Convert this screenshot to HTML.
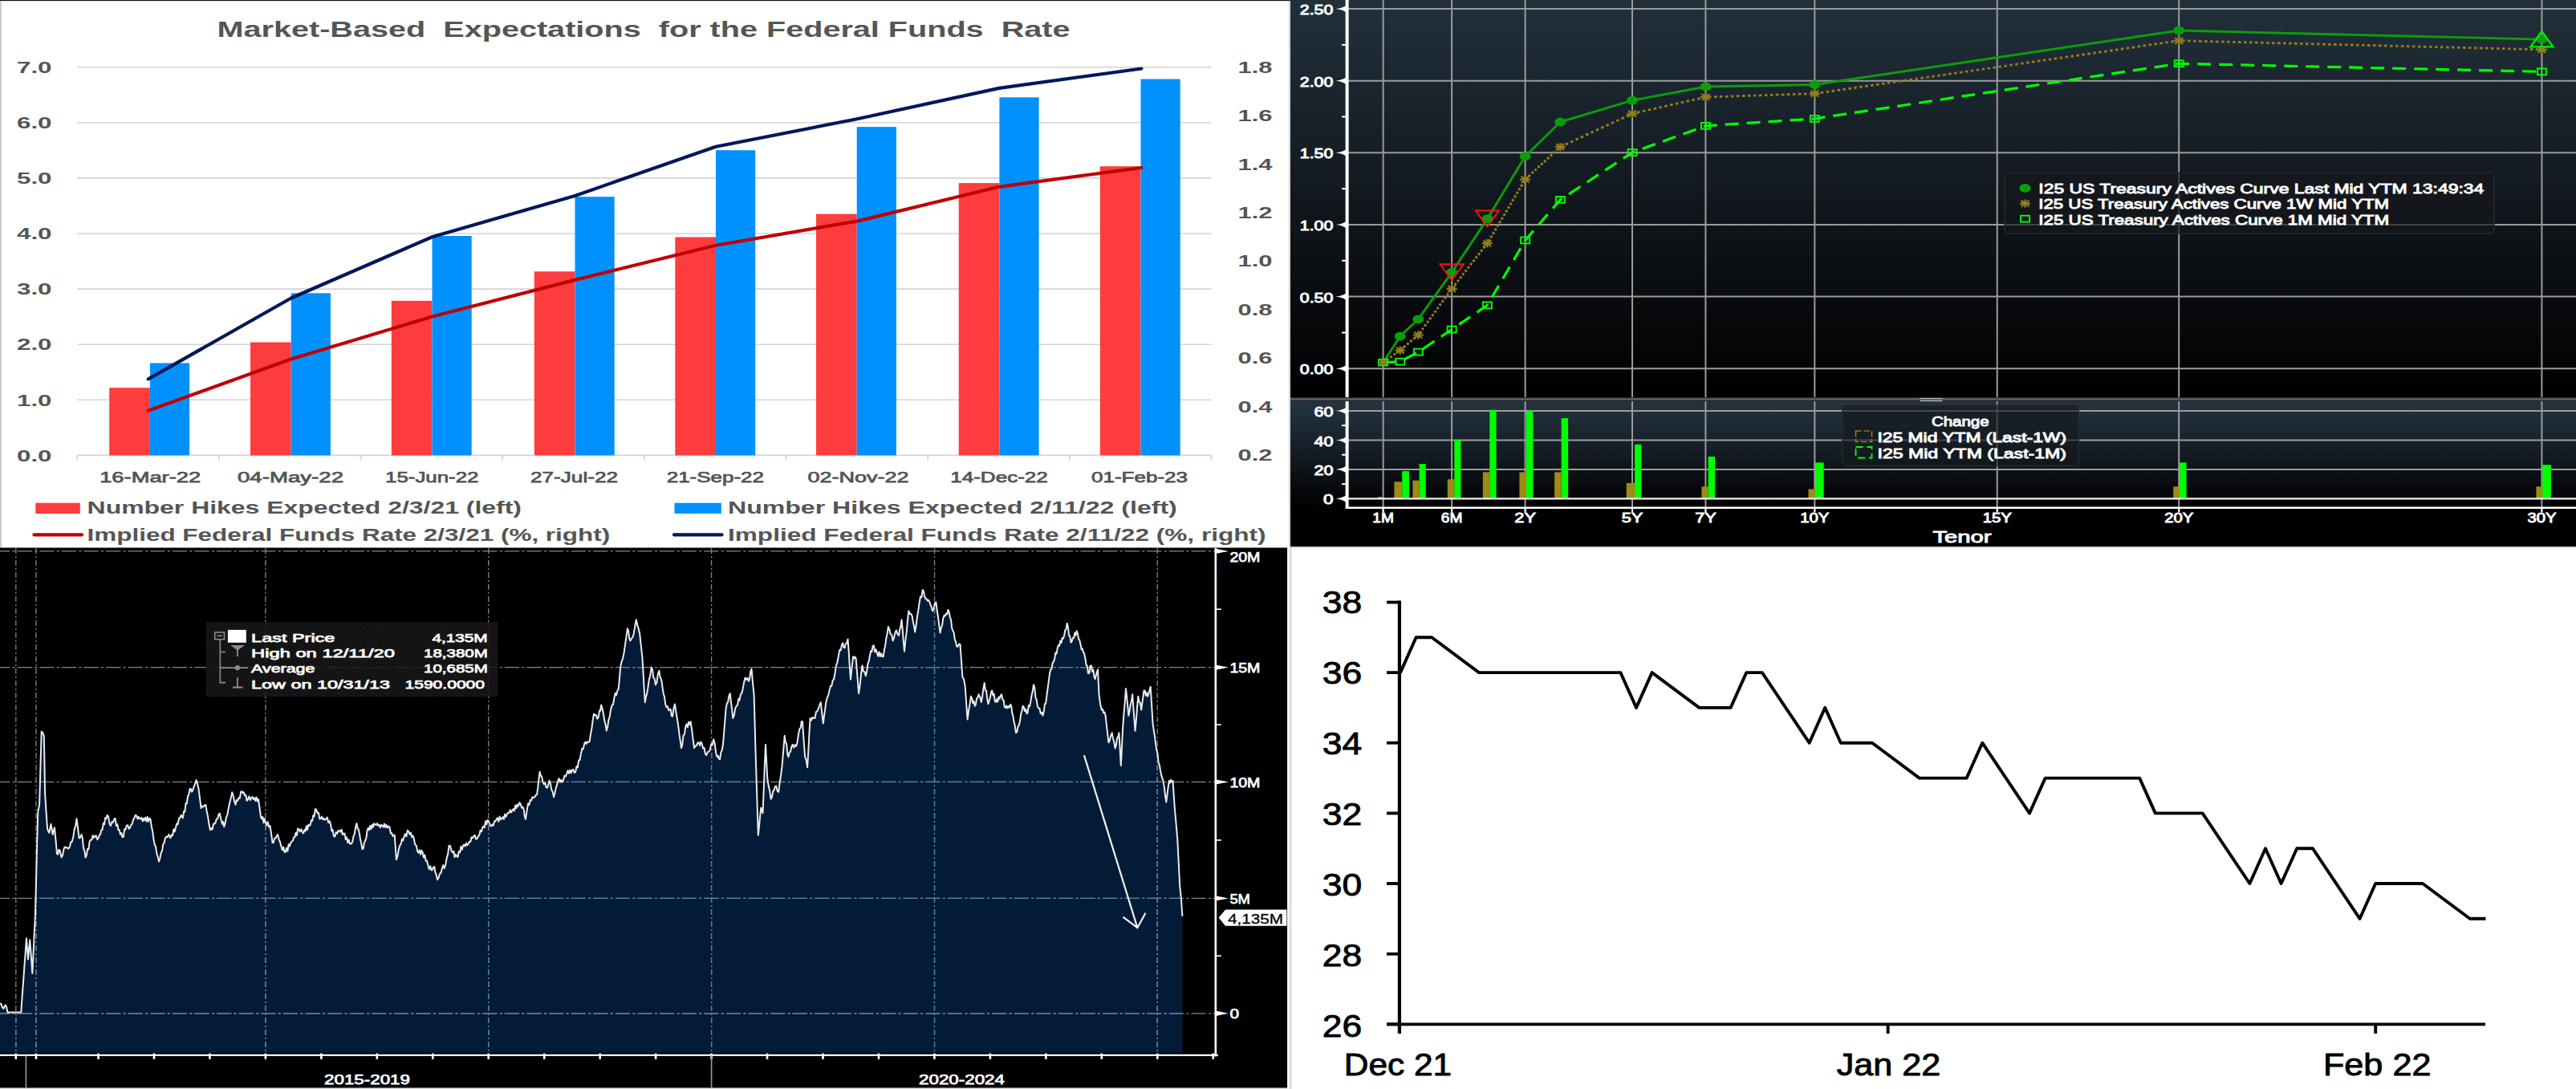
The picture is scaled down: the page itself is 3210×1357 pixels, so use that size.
<!DOCTYPE html>
<html><head><meta charset="utf-8"><title>Charts</title>
<style>
html,body{margin:0;padding:0;background:#fff;}
body{width:3210px;height:1357px;overflow:hidden;font-family:"Liberation Sans", sans-serif;}
svg{display:block;font-family:"Liberation Sans", sans-serif;}
</style></head><body>
<svg width="3210" height="1357" viewBox="0 0 3210 1357">
<defs>
<linearGradient id="g2a" x1="0" y1="0" x2="0" y2="1"><stop offset="0" stop-color="#22303b"/><stop offset="0.55" stop-color="#10151b"/><stop offset="1" stop-color="#000"/></linearGradient>
<linearGradient id="g2b" x1="0" y1="0" x2="0" y2="1"><stop offset="0" stop-color="#243441"/><stop offset="0.5" stop-color="#141b23"/><stop offset="1" stop-color="#000"/></linearGradient>
<pattern id="hatch" width="4" height="4" patternUnits="userSpaceOnUse"><rect width="4" height="4" fill="#131313"/><path d="M0 4L4 0" stroke="#262626" stroke-width="1"/></pattern>
</defs>
<g id="p1">
<rect x="0.0" y="0.0" width="1608.0" height="682.0" fill="#ffffff"/>
<rect x="0.0" y="0.0" width="1608.0" height="1.2" fill="#111"/>
<rect x="0.0" y="1.2" width="1608.0" height="1.4" fill="#e6e6e6"/>
<rect x="0.0" y="1.2" width="2.0" height="680.8" fill="#cbcbcb"/>
<rect x="1605.8" y="1.5" width="2.4" height="680.5" fill="#dadada"/>
<text x="270.5" y="46.4" font-size="28" font-weight="bold" fill="#555555" textLength="1063.0" lengthAdjust="spacingAndGlyphs">Market-Based  Expectations  for the Federal Funds  Rate</text>
<line x1="96.0" y1="567.4" x2="1509.5" y2="567.4" stroke="#d4d4d4" stroke-width="1.6"/>
<text x="21.0" y="574.6" font-size="21" font-weight="bold" fill="#555555" textLength="43.5" lengthAdjust="spacingAndGlyphs">0.0</text>
<line x1="96.0" y1="498.3" x2="1509.5" y2="498.3" stroke="#d4d4d4" stroke-width="1.6"/>
<text x="21.0" y="505.5" font-size="21" font-weight="bold" fill="#555555" textLength="43.5" lengthAdjust="spacingAndGlyphs">1.0</text>
<line x1="96.0" y1="429.2" x2="1509.5" y2="429.2" stroke="#d4d4d4" stroke-width="1.6"/>
<text x="21.0" y="436.4" font-size="21" font-weight="bold" fill="#555555" textLength="43.5" lengthAdjust="spacingAndGlyphs">2.0</text>
<line x1="96.0" y1="360.1" x2="1509.5" y2="360.1" stroke="#d4d4d4" stroke-width="1.6"/>
<text x="21.0" y="367.3" font-size="21" font-weight="bold" fill="#555555" textLength="43.5" lengthAdjust="spacingAndGlyphs">3.0</text>
<line x1="96.0" y1="291.0" x2="1509.5" y2="291.0" stroke="#d4d4d4" stroke-width="1.6"/>
<text x="21.0" y="298.2" font-size="21" font-weight="bold" fill="#555555" textLength="43.5" lengthAdjust="spacingAndGlyphs">4.0</text>
<line x1="96.0" y1="221.9" x2="1509.5" y2="221.9" stroke="#d4d4d4" stroke-width="1.6"/>
<text x="21.0" y="229.1" font-size="21" font-weight="bold" fill="#555555" textLength="43.5" lengthAdjust="spacingAndGlyphs">5.0</text>
<line x1="96.0" y1="152.8" x2="1509.5" y2="152.8" stroke="#d4d4d4" stroke-width="1.6"/>
<text x="21.0" y="160.0" font-size="21" font-weight="bold" fill="#555555" textLength="43.5" lengthAdjust="spacingAndGlyphs">6.0</text>
<line x1="96.0" y1="83.7" x2="1509.5" y2="83.7" stroke="#d4d4d4" stroke-width="1.6"/>
<text x="21.0" y="90.9" font-size="21" font-weight="bold" fill="#555555" textLength="43.5" lengthAdjust="spacingAndGlyphs">7.0</text>
<text x="1542.5" y="574.1" font-size="21" font-weight="bold" fill="#555555" textLength="43.0" lengthAdjust="spacingAndGlyphs">0.2</text>
<text x="1542.5" y="513.7" font-size="21" font-weight="bold" fill="#555555" textLength="43.0" lengthAdjust="spacingAndGlyphs">0.4</text>
<text x="1542.5" y="453.2" font-size="21" font-weight="bold" fill="#555555" textLength="43.0" lengthAdjust="spacingAndGlyphs">0.6</text>
<text x="1542.5" y="392.8" font-size="21" font-weight="bold" fill="#555555" textLength="43.0" lengthAdjust="spacingAndGlyphs">0.8</text>
<text x="1542.5" y="332.4" font-size="21" font-weight="bold" fill="#555555" textLength="43.0" lengthAdjust="spacingAndGlyphs">1.0</text>
<text x="1542.5" y="271.9" font-size="21" font-weight="bold" fill="#555555" textLength="43.0" lengthAdjust="spacingAndGlyphs">1.2</text>
<text x="1542.5" y="211.5" font-size="21" font-weight="bold" fill="#555555" textLength="43.0" lengthAdjust="spacingAndGlyphs">1.4</text>
<text x="1542.5" y="151.1" font-size="21" font-weight="bold" fill="#555555" textLength="43.0" lengthAdjust="spacingAndGlyphs">1.6</text>
<text x="1542.5" y="90.7" font-size="21" font-weight="bold" fill="#555555" textLength="43.0" lengthAdjust="spacingAndGlyphs">1.8</text>
<line x1="96.3" y1="567.4" x2="96.3" y2="574.0" stroke="#d4d4d4" stroke-width="1.6"/>
<line x1="272.9" y1="567.4" x2="272.9" y2="574.0" stroke="#d4d4d4" stroke-width="1.6"/>
<line x1="449.6" y1="567.4" x2="449.6" y2="574.0" stroke="#d4d4d4" stroke-width="1.6"/>
<line x1="626.2" y1="567.4" x2="626.2" y2="574.0" stroke="#d4d4d4" stroke-width="1.6"/>
<line x1="802.9" y1="567.4" x2="802.9" y2="574.0" stroke="#d4d4d4" stroke-width="1.6"/>
<line x1="979.5" y1="567.4" x2="979.5" y2="574.0" stroke="#d4d4d4" stroke-width="1.6"/>
<line x1="1156.2" y1="567.4" x2="1156.2" y2="574.0" stroke="#d4d4d4" stroke-width="1.6"/>
<line x1="1332.8" y1="567.4" x2="1332.8" y2="574.0" stroke="#d4d4d4" stroke-width="1.6"/>
<line x1="1509.5" y1="567.4" x2="1509.5" y2="574.0" stroke="#d4d4d4" stroke-width="1.6"/>
<rect x="136.2" y="483.2" width="50.7" height="84.2" fill="#fd3c3e"/>
<rect x="186.9" y="452.4" width="49.2" height="115.0" fill="#0091ff"/>
<rect x="312.0" y="426.5" width="50.7" height="140.9" fill="#fd3c3e"/>
<rect x="362.7" y="365.3" width="49.2" height="202.1" fill="#0091ff"/>
<rect x="487.8" y="374.8" width="50.7" height="192.6" fill="#fd3c3e"/>
<rect x="538.5" y="294.0" width="49.2" height="273.4" fill="#0091ff"/>
<rect x="665.8" y="338.3" width="50.7" height="229.1" fill="#fd3c3e"/>
<rect x="716.5" y="245.2" width="49.2" height="322.2" fill="#0091ff"/>
<rect x="841.3" y="295.5" width="50.7" height="271.9" fill="#fd3c3e"/>
<rect x="892.0" y="187.2" width="49.2" height="380.2" fill="#0091ff"/>
<rect x="1017.0" y="266.7" width="50.7" height="300.7" fill="#fd3c3e"/>
<rect x="1067.7" y="158.1" width="49.2" height="409.3" fill="#0091ff"/>
<rect x="1194.7" y="228.1" width="50.7" height="339.3" fill="#fd3c3e"/>
<rect x="1245.4" y="121.3" width="49.2" height="446.1" fill="#0091ff"/>
<rect x="1370.8" y="207.2" width="50.7" height="360.2" fill="#fd3c3e"/>
<rect x="1421.5" y="98.5" width="49.2" height="468.9" fill="#0091ff"/>
<polyline points="184.7,511.7 362.7,447.5 538.5,394.5 716.5,348.9 892.0,305.7 1068.0,275.6 1245.0,232.8 1422.4,209.0" fill="none" stroke="#c00000" stroke-width="4.2" stroke-linecap="round" stroke-linejoin="round"/>
<polyline points="184.7,472.4 362.7,371.5 538.5,295.3 716.5,243.9 892.0,182.8 1068.0,148.2 1245.0,109.9 1422.4,85.5" fill="none" stroke="#00175a" stroke-width="4.2" stroke-linecap="round" stroke-linejoin="round"/>
<text x="124.2" y="601.3" font-size="18.5" fill="#555555" textLength="126.0" lengthAdjust="spacingAndGlyphs" stroke="#555" stroke-width="0.75">16-Mar-22</text>
<text x="296.0" y="601.3" font-size="18.5" fill="#555555" textLength="132.0" lengthAdjust="spacingAndGlyphs" stroke="#555" stroke-width="0.75">04-May-22</text>
<text x="480.0" y="601.3" font-size="18.5" fill="#555555" textLength="116.5" lengthAdjust="spacingAndGlyphs" stroke="#555" stroke-width="0.75">15-Jun-22</text>
<text x="661.0" y="601.3" font-size="18.5" fill="#555555" textLength="109.0" lengthAdjust="spacingAndGlyphs" stroke="#555" stroke-width="0.75">27-Jul-22</text>
<text x="830.7" y="601.3" font-size="18.5" fill="#555555" textLength="121.3" lengthAdjust="spacingAndGlyphs" stroke="#555" stroke-width="0.75">21-Sep-22</text>
<text x="1006.5" y="601.3" font-size="18.5" fill="#555555" textLength="126.1" lengthAdjust="spacingAndGlyphs" stroke="#555" stroke-width="0.75">02-Nov-22</text>
<text x="1184.2" y="601.3" font-size="18.5" fill="#555555" textLength="121.7" lengthAdjust="spacingAndGlyphs" stroke="#555" stroke-width="0.75">14-Dec-22</text>
<text x="1360.0" y="601.3" font-size="18.5" fill="#555555" textLength="120.0" lengthAdjust="spacingAndGlyphs" stroke="#555" stroke-width="0.75">01-Feb-23</text>
<rect x="44.3" y="626.7" width="55.5" height="13.3" fill="#fd3c3e"/>
<text x="108.6" y="640.0" font-size="22.5" font-weight="bold" fill="#555555" textLength="541.4" lengthAdjust="spacingAndGlyphs">Number Hikes Expected 2/3/21 (left)</text>
<rect x="840.5" y="626.7" width="58.3" height="13.3" fill="#0091ff"/>
<text x="907.0" y="640.0" font-size="22.5" font-weight="bold" fill="#555555" textLength="559.8" lengthAdjust="spacingAndGlyphs">Number Hikes Expected 2/11/22 (left)</text>
<line x1="42.5" y1="666.3" x2="102.0" y2="666.3" stroke="#c00000" stroke-width="4.2" stroke-linecap="round"/>
<text x="108.6" y="673.5" font-size="22.5" font-weight="bold" fill="#555555" textLength="651.6" lengthAdjust="spacingAndGlyphs">Implied Federal Funds Rate 2/3/21 (%, right)</text>
<line x1="840.0" y1="666.3" x2="899.5" y2="666.3" stroke="#00175a" stroke-width="4.2" stroke-linecap="round"/>
<text x="907.0" y="673.5" font-size="22.5" font-weight="bold" fill="#555555" textLength="670.6" lengthAdjust="spacingAndGlyphs">Implied Federal Funds Rate 2/11/22 (%, right)</text>
</g>
<g id="p2">
<rect x="1608.0" y="0.0" width="1602.0" height="681.5" fill="#000"/>
<rect x="1608.0" y="0.0" width="1602.0" height="496.0" fill="url(#g2a)"/>
<rect x="1608.0" y="499.5" width="1602.0" height="133.0" fill="url(#g2b)"/>
<line x1="1723.6" y1="0.0" x2="1723.6" y2="495.0" stroke="#9b9b9b" stroke-width="2.0"/>
<line x1="1809.1" y1="0.0" x2="1809.1" y2="495.0" stroke="#9b9b9b" stroke-width="2.0"/>
<line x1="1900.6" y1="0.0" x2="1900.6" y2="495.0" stroke="#9b9b9b" stroke-width="2.0"/>
<line x1="2034.0" y1="0.0" x2="2034.0" y2="495.0" stroke="#9b9b9b" stroke-width="2.0"/>
<line x1="2125.4" y1="0.0" x2="2125.4" y2="495.0" stroke="#9b9b9b" stroke-width="2.0"/>
<line x1="2261.3" y1="0.0" x2="2261.3" y2="495.0" stroke="#9b9b9b" stroke-width="2.0"/>
<line x1="2488.7" y1="0.0" x2="2488.7" y2="495.0" stroke="#9b9b9b" stroke-width="2.0"/>
<line x1="2715.2" y1="0.0" x2="2715.2" y2="495.0" stroke="#9b9b9b" stroke-width="2.0"/>
<line x1="3167.4" y1="0.0" x2="3167.4" y2="495.0" stroke="#9b9b9b" stroke-width="2.0"/>
<line x1="1678.0" y1="459.3" x2="3210.0" y2="459.3" stroke="#9b9b9b" stroke-width="2.0"/>
<line x1="1678.0" y1="369.6" x2="3210.0" y2="369.6" stroke="#9b9b9b" stroke-width="2.0"/>
<line x1="1678.0" y1="280.0" x2="3210.0" y2="280.0" stroke="#9b9b9b" stroke-width="2.0"/>
<line x1="1678.0" y1="190.3" x2="3210.0" y2="190.3" stroke="#9b9b9b" stroke-width="2.0"/>
<line x1="1678.0" y1="100.7" x2="3210.0" y2="100.7" stroke="#9b9b9b" stroke-width="2.0"/>
<line x1="1678.0" y1="11.1" x2="3210.0" y2="11.1" stroke="#9b9b9b" stroke-width="2.0"/>
<rect x="1608.0" y="495.6" width="1602.0" height="3.4" fill="#5a5a5a"/>
<rect x="2392.5" y="495.9" width="28.0" height="1.2" fill="#b4b4b4"/>
<rect x="2392.5" y="498.9" width="28.0" height="1.2" fill="#b4b4b4"/>
<line x1="1723.6" y1="500.0" x2="1723.6" y2="638.0" stroke="#9b9b9b" stroke-width="2.0"/>
<line x1="1809.1" y1="500.0" x2="1809.1" y2="638.0" stroke="#9b9b9b" stroke-width="2.0"/>
<line x1="1900.6" y1="500.0" x2="1900.6" y2="638.0" stroke="#9b9b9b" stroke-width="2.0"/>
<line x1="2034.0" y1="500.0" x2="2034.0" y2="638.0" stroke="#9b9b9b" stroke-width="2.0"/>
<line x1="2125.4" y1="500.0" x2="2125.4" y2="638.0" stroke="#9b9b9b" stroke-width="2.0"/>
<line x1="2261.3" y1="500.0" x2="2261.3" y2="638.0" stroke="#9b9b9b" stroke-width="2.0"/>
<line x1="2488.7" y1="500.0" x2="2488.7" y2="638.0" stroke="#9b9b9b" stroke-width="2.0"/>
<line x1="2715.2" y1="500.0" x2="2715.2" y2="638.0" stroke="#9b9b9b" stroke-width="2.0"/>
<line x1="3167.4" y1="500.0" x2="3167.4" y2="638.0" stroke="#9b9b9b" stroke-width="2.0"/>
<line x1="1678.0" y1="584.9" x2="3210.0" y2="584.9" stroke="#9b9b9b" stroke-width="2.0"/>
<line x1="1678.0" y1="548.5" x2="3210.0" y2="548.5" stroke="#9b9b9b" stroke-width="2.0"/>
<line x1="1678.0" y1="512.0" x2="3210.0" y2="512.0" stroke="#9b9b9b" stroke-width="2.0"/>
<rect x="1717.0" y="619.2" width="7.0" height="2.2" fill="#a08a16"/>
<rect x="1737.4" y="600.3" width="9.8" height="21.1" fill="#a08a16"/>
<rect x="1747.2" y="587.1" width="8.8" height="34.3" fill="#00ff00"/>
<rect x="1760.4" y="598.7" width="8.2" height="22.7" fill="#a08a16"/>
<rect x="1768.6" y="578.0" width="8.1" height="43.4" fill="#00ff00"/>
<rect x="1803.8" y="597.2" width="8.5" height="24.2" fill="#a08a16"/>
<rect x="1812.3" y="548.1" width="8.1" height="73.3" fill="#00ff00"/>
<rect x="1847.8" y="588.4" width="8.5" height="33.0" fill="#a08a16"/>
<rect x="1856.3" y="510.7" width="8.2" height="110.7" fill="#00ff00"/>
<rect x="1893.4" y="588.4" width="8.5" height="33.0" fill="#a08a16"/>
<rect x="1901.9" y="512.0" width="8.5" height="109.4" fill="#00ff00"/>
<rect x="1937.1" y="588.4" width="8.5" height="33.0" fill="#a08a16"/>
<rect x="1945.6" y="521.1" width="8.5" height="100.3" fill="#00ff00"/>
<rect x="2026.7" y="601.9" width="10.4" height="19.5" fill="#a08a16"/>
<rect x="2037.1" y="553.8" width="8.2" height="67.6" fill="#00ff00"/>
<rect x="2120.4" y="606.3" width="8.2" height="15.1" fill="#a08a16"/>
<rect x="2128.6" y="568.9" width="8.5" height="52.5" fill="#00ff00"/>
<rect x="2253.5" y="609.4" width="8.5" height="12.0" fill="#a08a16"/>
<rect x="2262.0" y="576.4" width="10.6" height="45.0" fill="#00ff00"/>
<rect x="2708.2" y="606.3" width="7.8" height="15.1" fill="#a08a16"/>
<rect x="2716.0" y="576.4" width="8.5" height="45.0" fill="#00ff00"/>
<rect x="3160.4" y="606.3" width="7.8" height="15.1" fill="#a08a16"/>
<rect x="3168.2" y="579.2" width="10.7" height="42.2" fill="#00ff00"/>
<line x1="1678.6" y1="0.0" x2="1678.6" y2="495.0" stroke="#fff" stroke-width="4"/>
<line x1="1678.6" y1="500.0" x2="1678.6" y2="633.5" stroke="#fff" stroke-width="4"/>
<line x1="1678.0" y1="621.4" x2="3210.0" y2="621.4" stroke="#f0f0f0" stroke-width="2.2"/>
<line x1="1676.6" y1="632.7" x2="3210.0" y2="632.7" stroke="#fff" stroke-width="2.4"/>
<line x1="1723.6" y1="632.0" x2="1723.6" y2="638.5" stroke="#fff" stroke-width="2"/>
<line x1="1809.1" y1="632.0" x2="1809.1" y2="638.5" stroke="#fff" stroke-width="2"/>
<line x1="1900.6" y1="632.0" x2="1900.6" y2="638.5" stroke="#fff" stroke-width="2"/>
<line x1="2034.0" y1="632.0" x2="2034.0" y2="638.5" stroke="#fff" stroke-width="2"/>
<line x1="2125.4" y1="632.0" x2="2125.4" y2="638.5" stroke="#fff" stroke-width="2"/>
<line x1="2261.3" y1="632.0" x2="2261.3" y2="638.5" stroke="#fff" stroke-width="2"/>
<line x1="2488.7" y1="632.0" x2="2488.7" y2="638.5" stroke="#fff" stroke-width="2"/>
<line x1="2715.2" y1="632.0" x2="2715.2" y2="638.5" stroke="#fff" stroke-width="2"/>
<line x1="3167.4" y1="632.0" x2="3167.4" y2="638.5" stroke="#fff" stroke-width="2"/>
<path d="M1664.5 459.3Q1673.0 458.4 1678.0 454.7V463.9Q1673.0 460.2 1664.5 459.3Z" fill="#fff"/>
<text x="1619.8" y="466.2" font-size="16.5" fill="#fff" textLength="41.5" lengthAdjust="spacingAndGlyphs" stroke="#fff" stroke-width="0.9">0.00</text>
<path d="M1664.5 369.6Q1673.0 368.8 1678.0 365.0V374.2Q1673.0 370.5 1664.5 369.6Z" fill="#fff"/>
<text x="1619.8" y="376.5" font-size="16.5" fill="#fff" textLength="41.5" lengthAdjust="spacingAndGlyphs" stroke="#fff" stroke-width="0.9">0.50</text>
<path d="M1664.5 280.0Q1673.0 279.1 1678.0 275.4V284.6Q1673.0 280.9 1664.5 280.0Z" fill="#fff"/>
<text x="1619.8" y="286.9" font-size="16.5" fill="#fff" textLength="41.5" lengthAdjust="spacingAndGlyphs" stroke="#fff" stroke-width="0.9">1.00</text>
<path d="M1664.5 190.3Q1673.0 189.4 1678.0 185.7V194.9Q1673.0 191.2 1664.5 190.3Z" fill="#fff"/>
<text x="1619.8" y="197.2" font-size="16.5" fill="#fff" textLength="41.5" lengthAdjust="spacingAndGlyphs" stroke="#fff" stroke-width="0.9">1.50</text>
<path d="M1664.5 100.7Q1673.0 99.8 1678.0 96.1V105.3Q1673.0 101.6 1664.5 100.7Z" fill="#fff"/>
<text x="1619.8" y="107.6" font-size="16.5" fill="#fff" textLength="41.5" lengthAdjust="spacingAndGlyphs" stroke="#fff" stroke-width="0.9">2.00</text>
<path d="M1664.5 11.1Q1673.0 10.2 1678.0 6.5V15.7Q1673.0 12.0 1664.5 11.1Z" fill="#fff"/>
<text x="1619.8" y="18.0" font-size="16.5" fill="#fff" textLength="41.5" lengthAdjust="spacingAndGlyphs" stroke="#fff" stroke-width="0.9">2.50</text>
<line x1="1672.0" y1="414.5" x2="1678.0" y2="414.5" stroke="#fff" stroke-width="2"/>
<line x1="1672.0" y1="324.8" x2="1678.0" y2="324.8" stroke="#fff" stroke-width="2"/>
<line x1="1672.0" y1="235.2" x2="1678.0" y2="235.2" stroke="#fff" stroke-width="2"/>
<line x1="1672.0" y1="145.5" x2="1678.0" y2="145.5" stroke="#fff" stroke-width="2"/>
<line x1="1672.0" y1="55.9" x2="1678.0" y2="55.9" stroke="#fff" stroke-width="2"/>
<path d="M1664.5 621.4Q1673.0 620.5 1678.0 616.8V626.0Q1673.0 622.3 1664.5 621.4Z" fill="#fff"/>
<text x="1661.5" y="628.4" font-size="16.5" fill="#fff" text-anchor="end" textLength="12.5" lengthAdjust="spacingAndGlyphs" stroke="#fff" stroke-width="0.9">0</text>
<path d="M1664.5 584.9Q1673.0 584.0 1678.0 580.3V589.5Q1673.0 585.8 1664.5 584.9Z" fill="#fff"/>
<text x="1661.5" y="591.9" font-size="16.5" fill="#fff" text-anchor="end" textLength="24.0" lengthAdjust="spacingAndGlyphs" stroke="#fff" stroke-width="0.9">20</text>
<path d="M1664.5 548.5Q1673.0 547.6 1678.0 543.9V553.1Q1673.0 549.4 1664.5 548.5Z" fill="#fff"/>
<text x="1661.5" y="555.5" font-size="16.5" fill="#fff" text-anchor="end" textLength="24.0" lengthAdjust="spacingAndGlyphs" stroke="#fff" stroke-width="0.9">40</text>
<path d="M1664.5 512.0Q1673.0 511.1 1678.0 507.4V516.6Q1673.0 512.9 1664.5 512.0Z" fill="#fff"/>
<text x="1661.5" y="519.0" font-size="16.5" fill="#fff" text-anchor="end" textLength="24.0" lengthAdjust="spacingAndGlyphs" stroke="#fff" stroke-width="0.9">60</text>
<line x1="1672.0" y1="603.2" x2="1678.0" y2="603.2" stroke="#fff" stroke-width="2"/>
<line x1="1672.0" y1="566.7" x2="1678.0" y2="566.7" stroke="#fff" stroke-width="2"/>
<line x1="1672.0" y1="530.2" x2="1678.0" y2="530.2" stroke="#fff" stroke-width="2"/>
<text x="1723.6" y="651.3" font-size="16.5" fill="#fff" text-anchor="middle" textLength="26.5" lengthAdjust="spacingAndGlyphs" stroke="#fff" stroke-width="0.9">1M</text>
<text x="1809.1" y="651.3" font-size="16.5" fill="#fff" text-anchor="middle" textLength="26.5" lengthAdjust="spacingAndGlyphs" stroke="#fff" stroke-width="0.9">6M</text>
<text x="1900.6" y="651.3" font-size="16.5" fill="#fff" text-anchor="middle" textLength="26.5" lengthAdjust="spacingAndGlyphs" stroke="#fff" stroke-width="0.9">2Y</text>
<text x="2034.0" y="651.3" font-size="16.5" fill="#fff" text-anchor="middle" textLength="26.5" lengthAdjust="spacingAndGlyphs" stroke="#fff" stroke-width="0.9">5Y</text>
<text x="2125.4" y="651.3" font-size="16.5" fill="#fff" text-anchor="middle" textLength="26.5" lengthAdjust="spacingAndGlyphs" stroke="#fff" stroke-width="0.9">7Y</text>
<text x="2261.3" y="651.3" font-size="16.5" fill="#fff" text-anchor="middle" textLength="36.0" lengthAdjust="spacingAndGlyphs" stroke="#fff" stroke-width="0.9">10Y</text>
<text x="2488.7" y="651.3" font-size="16.5" fill="#fff" text-anchor="middle" textLength="36.0" lengthAdjust="spacingAndGlyphs" stroke="#fff" stroke-width="0.9">15Y</text>
<text x="2715.2" y="651.3" font-size="16.5" fill="#fff" text-anchor="middle" textLength="36.0" lengthAdjust="spacingAndGlyphs" stroke="#fff" stroke-width="0.9">20Y</text>
<text x="3167.4" y="651.3" font-size="16.5" fill="#fff" text-anchor="middle" textLength="36.0" lengthAdjust="spacingAndGlyphs" stroke="#fff" stroke-width="0.9">30Y</text>
<text x="2445.0" y="675.5" font-size="20" fill="#fff" text-anchor="middle" textLength="73.0" lengthAdjust="spacingAndGlyphs" stroke="#fff" stroke-width="0.9">Tenor</text>
<polyline points="1723.6,451.7 1744.7,450.6 1767.3,438.6 1809.1,410.5 1853.4,380.3 1900.6,299.5 1944.3,248.9 2034.0,190.0 2125.4,156.8 2261.3,147.9 2715.2,79.2 3167.4,89.3" fill="none" stroke="#00ff00" stroke-width="3.2" stroke-dasharray="17 10" stroke-linejoin="round"/>
<polyline points="1723.6,451.7 1744.7,436.5 1767.3,417.5 1809.1,359.8 1853.4,303.2 1900.6,223.6 1944.3,183.1" fill="none" stroke="#937e1c" stroke-width="3.0" stroke-dasharray="3 2.3"/>
<polyline points="1944.3,183.1 2034.0,141.6 2125.4,121.0 2261.3,116.6 2715.2,50.7 3167.4,61.8" fill="none" stroke="#937e1c" stroke-width="2.9" stroke-dasharray="3.6 3.4"/>
<polyline points="1723.6,451.7 1744.7,419.0 1767.3,397.8 1809.1,339.3 1853.4,272.6 1900.6,194.8 1944.3,152.0 2034.0,125.1 2125.4,108.0 2261.3,105.5 2715.2,38.0 3167.4,49.1" fill="none" stroke="#0a9e0a" stroke-width="2.9" stroke-linejoin="round"/>
<rect x="1718.1" y="447.8" width="11" height="7.8" fill="none" stroke="#00ff00" stroke-width="1.9"/>
<rect x="1739.2" y="446.7" width="11" height="7.8" fill="none" stroke="#00ff00" stroke-width="1.9"/>
<rect x="1761.8" y="434.7" width="11" height="7.8" fill="none" stroke="#00ff00" stroke-width="1.9"/>
<rect x="1803.6" y="406.6" width="11" height="7.8" fill="none" stroke="#00ff00" stroke-width="1.9"/>
<rect x="1847.9" y="376.4" width="11" height="7.8" fill="none" stroke="#00ff00" stroke-width="1.9"/>
<rect x="1895.1" y="295.6" width="11" height="7.8" fill="none" stroke="#00ff00" stroke-width="1.9"/>
<rect x="1938.8" y="245.0" width="11" height="7.8" fill="none" stroke="#00ff00" stroke-width="1.9"/>
<rect x="2028.5" y="186.1" width="11" height="7.8" fill="none" stroke="#00ff00" stroke-width="1.9"/>
<rect x="2119.9" y="152.9" width="11" height="7.8" fill="none" stroke="#00ff00" stroke-width="1.9"/>
<rect x="2255.8" y="144.0" width="11" height="7.8" fill="none" stroke="#00ff00" stroke-width="1.9"/>
<rect x="2709.7" y="75.3" width="11" height="7.8" fill="none" stroke="#00ff00" stroke-width="1.9"/>
<rect x="3161.9" y="85.4" width="11" height="7.8" fill="none" stroke="#00ff00" stroke-width="1.9"/>
<path d="M1738.2 436.5H1751.2M1744.7 431.3V441.7M1739.8 432.6L1749.6 440.4M1739.8 440.4L1749.6 432.6" stroke="#937e1c" stroke-width="2.2" fill="none"/>
<path d="M1760.8 417.5H1773.8M1767.3 412.3V422.7M1762.4 413.6L1772.2 421.4M1762.4 421.4L1772.2 413.6" stroke="#937e1c" stroke-width="2.2" fill="none"/>
<path d="M1802.6 359.8H1815.6M1809.1 354.6V365.0M1804.2 355.9L1814.0 363.7M1804.2 363.7L1814.0 355.9" stroke="#937e1c" stroke-width="2.2" fill="none"/>
<path d="M1846.9 303.2H1859.9M1853.4 298.0V308.4M1848.5 299.3L1858.3 307.1M1848.5 307.1L1858.3 299.3" stroke="#937e1c" stroke-width="2.2" fill="none"/>
<path d="M1894.1 223.6H1907.1M1900.6 218.4V228.8M1895.7 219.7L1905.5 227.5M1895.7 227.5L1905.5 219.7" stroke="#937e1c" stroke-width="2.2" fill="none"/>
<path d="M1937.8 183.1H1950.8M1944.3 177.9V188.3M1939.4 179.2L1949.2 187.0M1939.4 187.0L1949.2 179.2" stroke="#937e1c" stroke-width="2.2" fill="none"/>
<path d="M2027.5 141.6H2040.5M2034.0 136.4V146.8M2029.1 137.7L2038.9 145.5M2029.1 145.5L2038.9 137.7" stroke="#937e1c" stroke-width="2.2" fill="none"/>
<path d="M2118.9 121.0H2131.9M2125.4 115.8V126.2M2120.5 117.1L2130.3 124.9M2120.5 124.9L2130.3 117.1" stroke="#937e1c" stroke-width="2.2" fill="none"/>
<path d="M2254.8 116.6H2267.8M2261.3 111.4V121.8M2256.4 112.7L2266.2 120.5M2256.4 120.5L2266.2 112.7" stroke="#937e1c" stroke-width="2.2" fill="none"/>
<path d="M2708.7 50.7H2721.7M2715.2 45.5V55.9M2710.3 46.8L2720.1 54.6M2710.3 54.6L2720.1 46.8" stroke="#937e1c" stroke-width="2.2" fill="none"/>
<path d="M3160.9 61.8H3173.9M3167.4 56.6V67.0M3162.5 57.9L3172.3 65.7M3162.5 65.7L3172.3 57.9" stroke="#937e1c" stroke-width="2.2" fill="none"/>
<rect x="1719.6" y="448.2" width="8.0" height="7.0" fill="#937e1c"/>
<ellipse cx="1744.7" cy="419.0" rx="7" ry="5.4" fill="#0a9e0a"/>
<ellipse cx="1767.3" cy="397.8" rx="7" ry="5.4" fill="#0a9e0a"/>
<ellipse cx="1809.1" cy="339.3" rx="7" ry="5.4" fill="#0a9e0a"/>
<ellipse cx="1853.4" cy="272.6" rx="7" ry="5.4" fill="#0a9e0a"/>
<ellipse cx="1900.6" cy="194.8" rx="7" ry="5.4" fill="#0a9e0a"/>
<ellipse cx="1944.3" cy="152.0" rx="7" ry="5.4" fill="#0a9e0a"/>
<ellipse cx="2034.0" cy="125.1" rx="7" ry="5.4" fill="#0a9e0a"/>
<ellipse cx="2125.4" cy="108.0" rx="7" ry="5.4" fill="#0a9e0a"/>
<ellipse cx="2261.3" cy="105.5" rx="7" ry="5.4" fill="#0a9e0a"/>
<ellipse cx="2715.2" cy="38.0" rx="7" ry="5.4" fill="#0a9e0a"/>
<ellipse cx="3167.4" cy="49.1" rx="7" ry="5.4" fill="#0a9e0a"/>
<path d="M1794.5 329.3H1823.7L1809.1 349.1Z" fill="none" stroke="#ff1010" stroke-width="2"/>
<path d="M1838.8 262.6H1868.0L1853.4 282.4Z" fill="none" stroke="#ff1010" stroke-width="2"/>
<path d="M3167.4 38.9L3181.3 58.2H3153.5Z" fill="none" stroke="#00e000" stroke-width="2.6"/>
<rect x="2498" y="215" width="610" height="76" rx="4" fill="#15181b" fill-opacity="0.66" stroke="#262a2e" stroke-width="1.5"/>
<ellipse cx="2523.5" cy="234.4" rx="7" ry="5.4" fill="#0a9e0a"/>
<path d="M2517.0 253.6H2530.0M2523.5 248.4V258.8M2518.6 249.7L2528.4 257.5M2518.6 257.5L2528.4 249.7" stroke="#937e1c" stroke-width="2.2" fill="none"/>
<rect x="2518.0" y="268.7" width="11" height="7.8" fill="none" stroke="#00ff00" stroke-width="1.9"/>
<text x="2540.3" y="240.7" font-size="16.8" fill="#fff" textLength="555.0" lengthAdjust="spacingAndGlyphs" stroke="#fff" stroke-width="0.9">I25 US Treasury Actives Curve Last Mid YTM 13:49:34</text>
<text x="2540.3" y="260.4" font-size="16.8" fill="#fff" textLength="436.8" lengthAdjust="spacingAndGlyphs" stroke="#fff" stroke-width="0.9">I25 US Treasury Actives Curve 1W Mid YTM</text>
<text x="2540.3" y="280.0" font-size="16.8" fill="#fff" textLength="436.8" lengthAdjust="spacingAndGlyphs" stroke="#fff" stroke-width="0.9">I25 US Treasury Actives Curve 1M Mid YTM</text>
<rect x="2296" y="505" width="294" height="75.5" rx="4" fill="#15191d" fill-opacity="0.64" stroke="#262b30" stroke-width="1.5"/>
<text x="2442.8" y="531.1" font-size="16.5" fill="#fff" text-anchor="middle" textLength="71.7" lengthAdjust="spacingAndGlyphs" stroke="#fff" stroke-width="0.9">Change</text>
<text x="2339.5" y="551.3" font-size="16.5" fill="#fff" textLength="235.5" lengthAdjust="spacingAndGlyphs" stroke="#fff" stroke-width="0.9">I25 Mid YTM (Last-1W)</text>
<text x="2339.5" y="571.1" font-size="16.5" fill="#fff" textLength="235.5" lengthAdjust="spacingAndGlyphs" stroke="#fff" stroke-width="0.9">I25 Mid YTM (Last-1M)</text>
<rect x="2312.5" y="537" width="20" height="13.5" fill="none" stroke="#937e1c" stroke-width="1.6" stroke-dasharray="7 3"/>
<rect x="2312.5" y="557" width="20" height="13.5" fill="none" stroke="#00ff00" stroke-width="1.8" stroke-dasharray="9 5"/>
</g>
<g id="p3">
<rect x="0.0" y="682.5" width="1604.0" height="674.5" fill="#000"/>
<rect x="0.0" y="1355.5" width="1604.0" height="1.5" fill="#e2e2e2"/>
<path d="M0 1312.2 L0.0 1250.2 L1.5 1251.1 L2.9 1255.4 L4.4 1256.8 L6.6 1252.4 L8.1 1254.9 L9.6 1262.0 L10.8 1261.6 L12.0 1261.6 L13.2 1261.6 L14.4 1261.6 L15.6 1261.6 L16.8 1261.6 L18.0 1261.6 L19.1 1261.6 L20.3 1261.6 L21.5 1261.6 L22.7 1261.6 L23.9 1261.6 L25.1 1261.6 L26.3 1261.2 L27.6 1241.9 L28.9 1225.6 L30.3 1205.2 L31.6 1188.3 L32.9 1169.2 L35.0 1195.4 L37.2 1171.3 L38.8 1191.0 L40.3 1213.0 L41.5 1190.0 L42.6 1165.2 L43.8 1142.9 L45.0 1099.6 L46.1 1054.8 L47.3 1011.4 L49.1 1002.7 L50.4 957.5 L51.7 911.5 L53.2 913.1 L54.8 917.2 L56.1 989.5 L57.6 1012.4 L59.1 1033.3 L61.3 1037.7 L63.5 1026.8 L65.7 1039.9 L67.9 1031.2 L69.5 1047.1 L71.0 1064.0 L72.2 1064.6 L73.3 1058.8 L74.5 1059.6 L76.7 1068.4 L78.1 1065.5 L79.6 1057.6 L81.0 1055.2 L82.5 1056.4 L83.9 1056.2 L85.4 1057.4 L86.9 1055.4 L88.3 1049.2 L89.8 1048.7 L91.2 1043.2 L92.7 1033.2 L94.1 1029.4 L95.5 1020.2 L97.0 1031.5 L98.6 1044.3 L100.1 1043.3 L101.6 1039.9 L102.8 1044.3 L104.0 1056.6 L105.3 1060.2 L106.5 1068.4 L107.8 1066.1 L109.1 1057.7 L110.4 1058.3 L111.7 1048.3 L113.0 1046.5 L114.3 1046.6 L115.7 1041.0 L117.0 1043.9 L118.3 1042.1 L119.8 1041.2 L121.2 1046.2 L122.7 1044.3 L123.9 1040.4 L125.1 1039.8 L126.3 1034.4 L127.5 1034.0 L128.8 1025.8 L130.0 1027.4 L131.2 1019.1 L132.4 1020.2 L133.6 1015.8 L135.1 1017.7 L136.5 1026.7 L138.0 1029.0 L139.5 1024.0 L140.9 1024.8 L142.4 1020.2 L143.7 1020.1 L144.9 1029.1 L146.2 1027.0 L147.4 1034.0 L148.7 1034.0 L150.0 1039.8 L151.2 1037.8 L152.5 1043.0 L153.8 1042.9 L155.1 1033.2 L156.4 1033.7 L157.7 1029.0 L159.2 1028.2 L160.6 1032.8 L162.1 1031.2 L163.4 1027.8 L164.7 1026.8 L166.1 1021.1 L167.4 1019.5 L168.7 1015.8 L170.0 1016.2 L171.3 1020.2 L172.6 1017.7 L173.9 1020.4 L175.2 1020.2 L176.4 1018.8 L177.7 1023.4 L178.9 1019.9 L180.1 1022.2 L181.3 1018.6 L182.6 1023.7 L183.8 1017.9 L185.0 1023.8 L186.3 1019.8 L187.5 1021.0 L188.8 1029.7 L190.2 1036.4 L191.5 1046.1 L192.8 1053.0 L194.1 1054.9 L195.4 1064.1 L196.7 1067.6 L198.0 1073.6 L199.3 1069.7 L200.6 1062.8 L201.9 1060.8 L203.3 1051.9 L204.6 1050.3 L205.9 1044.3 L207.4 1042.5 L208.8 1043.0 L210.3 1039.9 L212.5 1044.3 L213.8 1040.2 L215.1 1041.1 L216.4 1033.2 L217.7 1036.3 L219.0 1031.2 L220.3 1026.2 L221.6 1027.3 L223.0 1019.6 L224.3 1019.3 L225.6 1015.8 L227.8 1019.3 L229.1 1011.0 L230.3 1011.6 L231.6 1000.7 L232.8 1001.3 L234.1 991.9 L235.3 989.7 L236.6 983.0 L237.8 983.1 L238.9 986.7 L240.1 985.1 L241.6 980.2 L243.0 976.9 L244.5 972.0 L246.0 976.6 L247.5 983.0 L249.1 995.4 L250.6 1007.0 L252.0 1004.6 L253.4 1005.3 L254.9 1003.5 L256.3 1002.7 L257.7 1011.3 L259.1 1017.8 L260.6 1027.8 L262.0 1034.2 L263.3 1032.0 L264.6 1033.5 L266.0 1026.4 L267.3 1026.8 L268.6 1024.9 L269.9 1020.4 L271.2 1020.3 L272.5 1014.8 L273.8 1013.6 L275.4 1020.9 L276.9 1026.8 L278.1 1023.9 L279.2 1030.2 L280.4 1026.8 L281.9 1018.5 L283.3 1015.4 L284.8 1007.0 L286.3 999.9 L287.7 994.5 L289.2 987.3 L290.6 991.1 L292.1 998.7 L293.5 1002.7 L294.8 997.0 L296.1 997.9 L297.4 994.0 L298.8 994.8 L300.1 986.8 L301.4 986.0 L302.6 988.4 L303.9 987.4 L305.1 991.4 L306.4 990.8 L307.6 997.8 L308.9 996.1 L310.4 992.4 L311.8 997.1 L313.3 993.9 L314.5 993.1 L315.8 996.0 L317.0 994.0 L318.3 997.9 L319.5 993.5 L320.8 998.5 L322.0 996.1 L323.5 1006.5 L325.0 1018.0 L326.2 1020.3 L327.3 1017.8 L328.5 1025.3 L329.6 1020.3 L330.8 1024.6 L332.2 1028.5 L333.6 1024.0 L335.1 1030.5 L336.5 1029.0 L338.0 1039.0 L339.5 1050.0 L340.8 1049.9 L342.1 1044.6 L343.5 1044.4 L344.8 1041.6 L346.1 1040.0 L347.6 1046.2 L349.0 1049.0 L350.5 1055.2 L351.8 1059.3 L353.1 1055.2 L354.5 1061.8 L355.8 1061.8 L357.1 1056.4 L358.4 1060.8 L359.7 1052.0 L361.0 1054.5 L362.3 1049.9 L363.6 1048.7 L364.9 1047.5 L366.1 1043.4 L367.4 1043.0 L368.6 1037.7 L369.9 1040.8 L371.1 1032.6 L372.4 1033.3 L373.9 1036.3 L375.3 1033.3 L376.8 1036.8 L378.0 1038.5 L379.3 1034.0 L380.5 1035.8 L381.8 1029.2 L383.0 1034.0 L384.3 1027.5 L385.5 1029.0 L386.7 1027.9 L387.9 1022.3 L389.1 1023.0 L390.4 1016.0 L391.6 1017.2 L392.8 1008.2 L394.0 1008.6 L395.4 1013.0 L396.9 1012.8 L398.3 1020.4 L399.7 1020.0 L401.0 1017.6 L402.3 1021.2 L403.7 1019.8 L405.0 1021.5 L406.3 1020.9 L407.8 1018.5 L409.2 1025.2 L410.7 1023.1 L412.0 1027.0 L413.3 1035.4 L414.6 1033.9 L415.9 1041.9 L417.3 1042.5 L418.8 1037.0 L420.2 1038.7 L421.6 1034.9 L422.9 1034.9 L424.2 1036.6 L425.6 1033.7 L426.9 1040.0 L428.2 1038.4 L429.5 1038.7 L430.8 1046.0 L432.1 1043.3 L433.4 1050.1 L434.7 1046.5 L436.0 1051.5 L437.6 1051.4 L439.1 1049.3 L440.4 1042.4 L441.8 1038.9 L443.1 1030.9 L444.4 1026.1 L445.6 1032.3 L446.7 1033.2 L447.9 1038.4 L449.1 1046.6 L450.2 1050.8 L451.4 1058.1 L452.7 1057.6 L454.0 1049.4 L455.3 1047.2 L456.5 1043.8 L457.6 1034.8 L458.8 1031.8 L460.1 1034.3 L461.3 1028.9 L462.6 1033.1 L463.8 1027.4 L465.1 1030.6 L466.3 1026.1 L467.6 1027.4 L468.9 1028.0 L470.1 1026.1 L471.4 1028.9 L472.6 1027.9 L473.9 1031.2 L475.1 1027.8 L476.4 1028.8 L477.7 1030.7 L479.0 1026.5 L480.3 1031.2 L481.6 1028.0 L482.9 1031.4 L484.2 1029.6 L485.5 1030.7 L486.9 1038.5 L488.2 1038.2 L489.5 1041.9 L491.7 1040.6 L493.9 1071.2 L495.3 1067.4 L496.8 1058.5 L498.2 1053.7 L499.5 1052.1 L500.9 1045.6 L502.2 1047.4 L503.5 1042.8 L504.9 1039.1 L506.4 1042.2 L507.8 1034.7 L509.2 1036.2 L510.5 1039.6 L511.8 1037.5 L513.2 1043.3 L514.5 1041.4 L515.8 1045.0 L517.2 1052.5 L518.7 1053.5 L520.1 1060.3 L521.4 1062.7 L522.7 1059.4 L524.1 1064.8 L525.4 1059.6 L526.7 1062.5 L528.0 1068.6 L529.3 1065.4 L530.7 1072.8 L532.0 1072.7 L533.3 1077.8 L534.8 1083.2 L536.2 1079.3 L537.7 1084.4 L538.9 1083.7 L540.0 1080.8 L541.2 1080.0 L542.5 1087.1 L543.8 1090.3 L545.1 1096.2 L546.5 1093.7 L548.0 1088.7 L549.4 1088.1 L550.8 1082.2 L552.3 1078.0 L553.7 1082.3 L555.2 1077.8 L556.7 1069.0 L558.1 1064.3 L559.6 1053.7 L561.1 1054.3 L562.5 1060.3 L564.0 1062.5 L565.3 1060.6 L566.6 1068.0 L567.9 1064.8 L569.2 1066.9 L570.5 1068.0 L571.8 1061.0 L573.2 1062.1 L574.5 1054.7 L575.8 1058.8 L577.1 1053.7 L578.4 1052.5 L579.7 1054.5 L581.1 1050.5 L582.4 1053.3 L583.7 1051.5 L585.0 1048.7 L586.3 1048.9 L587.6 1043.2 L588.9 1044.2 L590.2 1041.9 L591.7 1040.9 L593.1 1045.6 L594.6 1045.0 L595.9 1042.0 L597.2 1041.0 L598.6 1034.8 L599.9 1036.3 L601.2 1031.8 L602.5 1029.3 L603.8 1031.2 L605.1 1023.1 L606.4 1027.1 L607.7 1021.8 L609.2 1023.8 L610.6 1028.1 L612.1 1029.6 L613.4 1027.4 L614.7 1028.8 L616.1 1023.2 L617.4 1023.3 L618.7 1020.9 L620.0 1019.1 L621.3 1023.7 L622.7 1017.5 L624.0 1021.3 L625.3 1020.0 L626.6 1018.1 L627.9 1020.9 L629.2 1014.5 L630.5 1017.9 L631.8 1014.3 L633.1 1012.8 L634.4 1013.0 L635.8 1009.2 L637.1 1012.4 L638.4 1009.9 L639.7 1008.0 L640.9 1010.4 L642.2 1003.5 L643.4 1007.2 L644.7 1002.5 L645.9 1004.6 L647.2 1000.3 L648.6 1001.5 L650.1 1006.7 L651.5 1005.5 L652.7 1008.9 L653.8 1017.1 L655.0 1020.9 L656.5 1010.3 L658.1 1001.2 L659.4 1002.9 L660.7 997.1 L662.1 997.4 L663.4 993.3 L664.7 993.7 L666.2 993.6 L667.6 990.7 L669.1 990.2 L670.3 981.2 L671.4 970.9 L672.6 961.8 L673.9 966.6 L675.2 968.2 L676.5 974.5 L677.8 977.1 L679.3 975.9 L680.7 981.2 L682.2 981.5 L684.4 972.7 L685.8 976.0 L687.2 983.9 L688.7 986.8 L690.1 993.3 L691.4 988.5 L692.7 981.9 L694.0 978.2 L695.3 972.7 L696.6 970.1 L697.9 974.7 L699.3 971.8 L700.6 974.5 L701.9 972.7 L703.4 966.6 L704.8 967.5 L706.3 963.9 L707.6 960.2 L708.9 963.8 L710.3 959.5 L711.6 963.3 L712.9 959.6 L714.3 958.8 L715.8 962.9 L717.2 961.8 L718.5 955.0 L719.8 956.4 L721.2 947.3 L722.5 947.2 L723.8 939.9 L725.3 933.0 L726.7 933.4 L728.2 926.7 L729.5 924.5 L730.8 926.9 L732.1 924.4 L733.4 925.0 L734.7 923.7 L736.0 914.8 L737.4 907.6 L738.7 897.5 L740.0 889.5 L741.4 891.4 L742.9 891.1 L744.3 895.7 L745.7 893.9 L746.9 885.8 L748.0 886.0 L749.2 878.5 L750.8 883.9 L752.3 891.7 L753.5 899.0 L754.6 903.0 L755.8 910.5 L757.1 905.9 L758.4 897.0 L759.7 893.1 L761.0 885.1 L762.5 878.9 L763.9 878.2 L765.4 869.8 L766.7 863.7 L768.0 866.3 L769.4 860.5 L770.7 858.8 L771.9 846.3 L773.1 831.4 L774.6 824.3 L776.0 821.1 L777.5 813.9 L779.0 803.4 L780.4 794.1 L781.9 783.2 L783.1 786.5 L784.2 795.3 L785.4 798.5 L787.0 795.4 L788.5 794.1 L789.9 788.7 L791.4 779.3 L792.8 772.3 L794.3 779.3 L795.7 783.4 L797.2 789.8 L798.8 804.7 L800.3 818.3 L801.5 836.9 L802.6 856.6 L803.8 875.2 L805.0 868.1 L806.1 864.6 L807.3 857.7 L808.8 846.8 L810.2 842.1 L811.7 831.4 L813.0 834.2 L814.3 844.7 L815.6 845.3 L816.9 853.3 L818.4 850.5 L819.8 840.1 L821.3 835.8 L822.8 844.4 L824.2 847.0 L825.7 857.7 L826.9 865.0 L828.0 868.3 L829.2 877.4 L830.5 881.3 L831.9 880.2 L833.2 885.2 L834.5 883.9 L835.7 883.8 L836.8 892.0 L838.0 892.7 L839.5 882.5 L841.0 877.4 L842.5 887.9 L843.9 895.9 L845.4 905.8 L846.6 915.3 L847.7 922.6 L848.9 932.1 L850.2 928.4 L851.5 916.2 L852.9 915.2 L854.2 905.8 L855.5 902.4 L856.8 906.3 L858.1 899.5 L859.4 903.0 L860.7 899.3 L862.2 909.7 L863.6 921.5 L865.1 932.1 L866.6 929.2 L868.0 929.1 L869.5 925.5 L870.8 925.2 L872.1 929.1 L873.4 924.5 L874.7 926.9 L876.1 932.6 L877.5 931.7 L879.0 939.8 L880.4 940.9 L881.9 936.9 L883.3 936.8 L884.8 934.3 L886.3 927.2 L887.7 928.2 L889.2 921.2 L890.7 926.6 L892.1 937.8 L893.6 943.1 L894.8 941.8 L895.9 945.6 L897.1 946.1 L898.4 937.4 L899.7 934.9 L901.0 927.7 L902.2 912.7 L903.3 899.0 L904.5 883.9 L905.8 876.4 L907.1 875.0 L908.5 866.5 L909.8 864.2 L911.0 875.6 L912.1 883.9 L913.3 894.9 L914.8 891.3 L916.2 882.9 L917.7 879.6 L919.0 878.9 L920.3 870.8 L921.6 872.6 L922.9 865.0 L924.2 864.2 L925.7 858.2 L927.1 850.3 L928.6 844.5 L930.1 847.1 L931.5 844.8 L933.0 848.9 L934.2 845.0 L935.3 836.6 L936.5 833.6 L938.0 850.3 L939.6 866.4 L941.8 945.3 L943.3 992.6 L944.8 1040.7 L946.0 1029.9 L947.1 1017.1 L948.3 1006.6 L950.5 1013.1 L951.7 985.6 L952.8 955.3 L954.0 927.7 L956.2 969.3 L957.7 979.3 L959.1 984.9 L960.6 995.6 L961.9 993.5 L963.2 986.2 L964.5 984.8 L965.8 980.3 L967.3 979.4 L968.7 985.6 L970.2 986.9 L971.7 974.8 L973.1 966.1 L974.6 954.0 L976.2 935.1 L977.7 916.8 L978.9 925.1 L980.1 927.1 L981.3 939.8 L982.5 943.1 L983.8 937.6 L985.1 936.5 L986.4 930.6 L987.7 927.7 L989.2 931.7 L990.6 928.2 L992.1 929.9 L993.6 924.7 L995.0 914.6 L996.5 908.0 L997.7 907.0 L998.8 898.9 L1000.0 899.3 L1001.5 921.6 L1003.1 943.1 L1004.6 946.8 L1006.1 956.2 L1007.3 936.5 L1008.4 914.2 L1009.6 894.9 L1011.1 897.4 L1012.5 893.9 L1014.0 894.9 L1015.5 895.0 L1016.9 887.2 L1018.4 886.1 L1019.9 882.8 L1021.3 878.5 L1022.8 875.2 L1024.3 889.1 L1025.8 901.5 L1027.0 892.0 L1028.1 884.5 L1029.3 875.2 L1030.8 869.4 L1032.2 866.4 L1033.7 859.9 L1035.0 854.7 L1036.3 854.9 L1037.7 847.7 L1039.0 846.7 L1040.3 840.1 L1041.8 829.9 L1043.2 826.2 L1044.7 818.3 L1046.2 810.0 L1047.6 810.5 L1049.1 802.9 L1050.3 801.3 L1051.4 807.0 L1052.6 807.3 L1053.9 802.2 L1055.2 801.6 L1056.5 796.4 L1057.7 812.0 L1058.8 830.8 L1060.0 846.7 L1061.5 831.9 L1063.1 818.3 L1064.3 820.6 L1065.4 818.5 L1066.6 820.4 L1067.8 835.3 L1068.9 849.2 L1070.1 864.2 L1071.6 853.6 L1073.0 840.3 L1074.5 829.2 L1075.9 836.8 L1077.4 836.9 L1078.8 842.3 L1080.1 836.9 L1081.4 827.3 L1082.8 823.5 L1084.1 816.1 L1085.3 811.0 L1086.4 812.0 L1087.6 805.1 L1088.9 804.3 L1090.2 812.3 L1091.6 809.4 L1092.9 813.9 L1094.2 817.8 L1095.5 812.2 L1096.8 818.1 L1098.1 814.3 L1099.4 818.0 L1100.7 818.3 L1101.9 809.9 L1103.2 804.1 L1104.4 794.9 L1105.7 789.3 L1106.9 781.0 L1108.3 784.2 L1109.8 790.2 L1111.2 791.0 L1112.6 798.5 L1114.0 794.8 L1115.5 788.0 L1116.9 785.4 L1118.5 790.1 L1120.0 792.0 L1121.2 784.2 L1122.3 781.5 L1123.5 772.3 L1124.7 784.3 L1125.8 799.1 L1127.0 811.7 L1128.3 798.2 L1129.7 787.1 L1131.0 773.1 L1132.3 761.3 L1133.8 765.0 L1135.2 764.9 L1136.7 767.9 L1137.9 775.3 L1139.0 780.1 L1140.2 787.6 L1141.5 780.0 L1142.8 769.4 L1144.1 761.8 L1145.4 752.6 L1146.9 743.6 L1148.3 744.3 L1149.8 735.0 L1151.0 737.0 L1152.1 743.1 L1153.3 746.0 L1154.6 746.2 L1155.9 748.8 L1157.2 747.9 L1158.5 750.4 L1159.7 754.6 L1160.8 756.6 L1162.0 761.3 L1163.5 758.8 L1164.9 752.0 L1166.4 750.4 L1167.7 761.0 L1169.0 768.5 L1170.3 779.7 L1171.6 788.6 L1172.8 781.6 L1174.0 779.8 L1175.2 771.0 L1176.4 767.1 L1177.6 767.5 L1178.9 764.7 L1180.1 765.4 L1181.4 760.0 L1182.6 762.3 L1183.8 769.0 L1185.0 772.4 L1186.2 782.5 L1187.4 786.2 L1188.6 788.0 L1189.8 796.8 L1191.0 799.5 L1192.2 805.4 L1193.6 805.7 L1195.1 802.3 L1196.5 803.0 L1198.0 824.1 L1199.4 843.7 L1201.1 846.4 L1202.7 855.7 L1204.2 877.2 L1205.6 896.5 L1207.0 885.8 L1208.5 877.6 L1209.9 867.7 L1211.1 870.3 L1212.3 876.2 L1213.5 873.6 L1214.7 879.7 L1215.9 877.9 L1217.1 870.4 L1218.3 869.2 L1219.5 865.3 L1221.2 868.6 L1222.8 874.9 L1224.1 868.0 L1225.4 857.9 L1226.7 850.9 L1227.9 860.5 L1229.1 860.8 L1230.3 871.8 L1231.5 877.3 L1232.7 872.5 L1233.8 869.7 L1235.0 862.8 L1236.2 860.5 L1237.4 866.5 L1238.6 864.5 L1239.8 873.8 L1241.0 874.9 L1242.2 871.0 L1243.4 874.4 L1244.6 868.4 L1245.8 870.5 L1247.0 866.5 L1248.2 865.3 L1249.4 872.2 L1250.6 872.7 L1251.8 881.1 L1253.0 882.1 L1254.2 879.4 L1255.4 882.5 L1256.6 880.2 L1257.8 881.6 L1259.0 877.8 L1260.2 879.7 L1261.4 888.9 L1262.5 892.5 L1263.7 900.3 L1264.8 904.6 L1266.0 913.2 L1267.3 912.1 L1268.5 905.3 L1269.8 903.6 L1271.0 898.6 L1272.2 889.5 L1273.4 886.0 L1274.6 879.7 L1275.8 880.9 L1277.0 886.2 L1278.2 883.6 L1279.4 889.3 L1280.6 888.0 L1281.8 879.1 L1283.0 880.3 L1284.2 874.9 L1285.5 866.7 L1286.7 861.6 L1288.0 853.3 L1289.2 856.6 L1290.4 869.0 L1291.6 871.8 L1292.8 879.7 L1294.1 882.5 L1295.5 882.7 L1296.8 889.3 L1298.2 887.7 L1299.5 891.7 L1300.7 886.8 L1301.9 877.3 L1303.1 876.9 L1304.3 867.7 L1305.6 857.6 L1306.8 848.9 L1308.1 839.0 L1309.3 834.1 L1310.5 833.4 L1311.7 825.8 L1312.9 824.6 L1314.1 821.3 L1315.3 813.4 L1316.5 814.6 L1317.7 807.8 L1318.9 803.9 L1320.1 804.7 L1321.3 798.5 L1322.5 801.1 L1323.7 795.0 L1324.9 795.8 L1326.1 792.0 L1327.3 785.3 L1328.5 784.1 L1329.7 776.7 L1330.9 781.5 L1332.1 791.9 L1333.3 792.8 L1334.5 800.6 L1335.7 799.1 L1336.9 794.8 L1338.1 795.0 L1339.3 788.6 L1340.5 791.8 L1341.7 786.2 L1342.9 789.6 L1344.1 796.1 L1345.3 797.8 L1346.5 803.0 L1347.7 809.3 L1348.8 808.3 L1350.0 812.5 L1351.2 815.0 L1352.4 820.5 L1353.6 828.5 L1354.8 829.9 L1356.0 839.0 L1357.3 838.8 L1358.6 830.0 L1359.9 829.4 L1361.1 837.0 L1362.3 834.6 L1363.5 843.2 L1364.7 846.1 L1366.3 839.3 L1368.0 834.2 L1369.5 865.3 L1371.2 878.1 L1372.8 884.5 L1374.0 883.7 L1375.2 888.5 L1376.4 887.5 L1377.6 891.7 L1378.9 903.5 L1380.1 913.4 L1381.4 925.2 L1382.8 922.5 L1384.3 916.4 L1385.7 913.2 L1387.0 919.9 L1388.3 924.8 L1389.6 932.4 L1390.8 929.0 L1392.0 919.5 L1393.2 918.7 L1394.4 913.2 L1395.6 932.4 L1396.8 954.0 L1398.0 930.5 L1399.2 906.0 L1400.5 889.4 L1401.7 875.1 L1403.0 858.1 L1404.7 873.9 L1406.3 891.7 L1407.5 886.7 L1408.7 878.0 L1409.9 873.7 L1411.1 865.3 L1412.8 887.4 L1414.5 910.8 L1415.8 897.6 L1417.0 881.6 L1418.3 867.7 L1419.6 874.7 L1420.9 875.8 L1422.2 884.5 L1423.8 872.8 L1425.5 860.5 L1426.7 860.7 L1427.9 866.9 L1429.1 863.2 L1430.3 867.7 L1432.0 862.1 L1433.7 855.7 L1435.1 878.1 L1436.5 901.2 L1437.7 910.0 L1438.9 916.9 L1440.1 926.9 L1441.3 934.8 L1442.5 938.8 L1443.7 951.0 L1444.9 953.2 L1446.1 961.1 L1447.8 968.2 L1449.5 973.1 L1450.8 980.7 L1452.0 991.6 L1453.3 999.5 L1455.0 985.8 L1456.7 973.1 L1457.9 975.6 L1459.1 971.8 L1460.3 974.3 L1461.5 973.1 L1463.8 1006.7 L1465.5 1025.5 L1467.2 1045.0 L1468.7 1074.7 L1470.1 1102.5 L1472.0 1121.7 L1473.4 1141.8 L1473.4 1312.2Z" fill="#031b37"/>
<clipPath id="c3"><path d="M0 1312.2 L0.0 1250.2 L1.5 1251.1 L2.9 1255.4 L4.4 1256.8 L6.6 1252.4 L8.1 1254.9 L9.6 1262.0 L10.8 1261.6 L12.0 1261.6 L13.2 1261.6 L14.4 1261.6 L15.6 1261.6 L16.8 1261.6 L18.0 1261.6 L19.1 1261.6 L20.3 1261.6 L21.5 1261.6 L22.7 1261.6 L23.9 1261.6 L25.1 1261.6 L26.3 1261.2 L27.6 1241.9 L28.9 1225.6 L30.3 1205.2 L31.6 1188.3 L32.9 1169.2 L35.0 1195.4 L37.2 1171.3 L38.8 1191.0 L40.3 1213.0 L41.5 1190.0 L42.6 1165.2 L43.8 1142.9 L45.0 1099.6 L46.1 1054.8 L47.3 1011.4 L49.1 1002.7 L50.4 957.5 L51.7 911.5 L53.2 913.1 L54.8 917.2 L56.1 989.5 L57.6 1012.4 L59.1 1033.3 L61.3 1037.7 L63.5 1026.8 L65.7 1039.9 L67.9 1031.2 L69.5 1047.1 L71.0 1064.0 L72.2 1064.6 L73.3 1058.8 L74.5 1059.6 L76.7 1068.4 L78.1 1065.5 L79.6 1057.6 L81.0 1055.2 L82.5 1056.4 L83.9 1056.2 L85.4 1057.4 L86.9 1055.4 L88.3 1049.2 L89.8 1048.7 L91.2 1043.2 L92.7 1033.2 L94.1 1029.4 L95.5 1020.2 L97.0 1031.5 L98.6 1044.3 L100.1 1043.3 L101.6 1039.9 L102.8 1044.3 L104.0 1056.6 L105.3 1060.2 L106.5 1068.4 L107.8 1066.1 L109.1 1057.7 L110.4 1058.3 L111.7 1048.3 L113.0 1046.5 L114.3 1046.6 L115.7 1041.0 L117.0 1043.9 L118.3 1042.1 L119.8 1041.2 L121.2 1046.2 L122.7 1044.3 L123.9 1040.4 L125.1 1039.8 L126.3 1034.4 L127.5 1034.0 L128.8 1025.8 L130.0 1027.4 L131.2 1019.1 L132.4 1020.2 L133.6 1015.8 L135.1 1017.7 L136.5 1026.7 L138.0 1029.0 L139.5 1024.0 L140.9 1024.8 L142.4 1020.2 L143.7 1020.1 L144.9 1029.1 L146.2 1027.0 L147.4 1034.0 L148.7 1034.0 L150.0 1039.8 L151.2 1037.8 L152.5 1043.0 L153.8 1042.9 L155.1 1033.2 L156.4 1033.7 L157.7 1029.0 L159.2 1028.2 L160.6 1032.8 L162.1 1031.2 L163.4 1027.8 L164.7 1026.8 L166.1 1021.1 L167.4 1019.5 L168.7 1015.8 L170.0 1016.2 L171.3 1020.2 L172.6 1017.7 L173.9 1020.4 L175.2 1020.2 L176.4 1018.8 L177.7 1023.4 L178.9 1019.9 L180.1 1022.2 L181.3 1018.6 L182.6 1023.7 L183.8 1017.9 L185.0 1023.8 L186.3 1019.8 L187.5 1021.0 L188.8 1029.7 L190.2 1036.4 L191.5 1046.1 L192.8 1053.0 L194.1 1054.9 L195.4 1064.1 L196.7 1067.6 L198.0 1073.6 L199.3 1069.7 L200.6 1062.8 L201.9 1060.8 L203.3 1051.9 L204.6 1050.3 L205.9 1044.3 L207.4 1042.5 L208.8 1043.0 L210.3 1039.9 L212.5 1044.3 L213.8 1040.2 L215.1 1041.1 L216.4 1033.2 L217.7 1036.3 L219.0 1031.2 L220.3 1026.2 L221.6 1027.3 L223.0 1019.6 L224.3 1019.3 L225.6 1015.8 L227.8 1019.3 L229.1 1011.0 L230.3 1011.6 L231.6 1000.7 L232.8 1001.3 L234.1 991.9 L235.3 989.7 L236.6 983.0 L237.8 983.1 L238.9 986.7 L240.1 985.1 L241.6 980.2 L243.0 976.9 L244.5 972.0 L246.0 976.6 L247.5 983.0 L249.1 995.4 L250.6 1007.0 L252.0 1004.6 L253.4 1005.3 L254.9 1003.5 L256.3 1002.7 L257.7 1011.3 L259.1 1017.8 L260.6 1027.8 L262.0 1034.2 L263.3 1032.0 L264.6 1033.5 L266.0 1026.4 L267.3 1026.8 L268.6 1024.9 L269.9 1020.4 L271.2 1020.3 L272.5 1014.8 L273.8 1013.6 L275.4 1020.9 L276.9 1026.8 L278.1 1023.9 L279.2 1030.2 L280.4 1026.8 L281.9 1018.5 L283.3 1015.4 L284.8 1007.0 L286.3 999.9 L287.7 994.5 L289.2 987.3 L290.6 991.1 L292.1 998.7 L293.5 1002.7 L294.8 997.0 L296.1 997.9 L297.4 994.0 L298.8 994.8 L300.1 986.8 L301.4 986.0 L302.6 988.4 L303.9 987.4 L305.1 991.4 L306.4 990.8 L307.6 997.8 L308.9 996.1 L310.4 992.4 L311.8 997.1 L313.3 993.9 L314.5 993.1 L315.8 996.0 L317.0 994.0 L318.3 997.9 L319.5 993.5 L320.8 998.5 L322.0 996.1 L323.5 1006.5 L325.0 1018.0 L326.2 1020.3 L327.3 1017.8 L328.5 1025.3 L329.6 1020.3 L330.8 1024.6 L332.2 1028.5 L333.6 1024.0 L335.1 1030.5 L336.5 1029.0 L338.0 1039.0 L339.5 1050.0 L340.8 1049.9 L342.1 1044.6 L343.5 1044.4 L344.8 1041.6 L346.1 1040.0 L347.6 1046.2 L349.0 1049.0 L350.5 1055.2 L351.8 1059.3 L353.1 1055.2 L354.5 1061.8 L355.8 1061.8 L357.1 1056.4 L358.4 1060.8 L359.7 1052.0 L361.0 1054.5 L362.3 1049.9 L363.6 1048.7 L364.9 1047.5 L366.1 1043.4 L367.4 1043.0 L368.6 1037.7 L369.9 1040.8 L371.1 1032.6 L372.4 1033.3 L373.9 1036.3 L375.3 1033.3 L376.8 1036.8 L378.0 1038.5 L379.3 1034.0 L380.5 1035.8 L381.8 1029.2 L383.0 1034.0 L384.3 1027.5 L385.5 1029.0 L386.7 1027.9 L387.9 1022.3 L389.1 1023.0 L390.4 1016.0 L391.6 1017.2 L392.8 1008.2 L394.0 1008.6 L395.4 1013.0 L396.9 1012.8 L398.3 1020.4 L399.7 1020.0 L401.0 1017.6 L402.3 1021.2 L403.7 1019.8 L405.0 1021.5 L406.3 1020.9 L407.8 1018.5 L409.2 1025.2 L410.7 1023.1 L412.0 1027.0 L413.3 1035.4 L414.6 1033.9 L415.9 1041.9 L417.3 1042.5 L418.8 1037.0 L420.2 1038.7 L421.6 1034.9 L422.9 1034.9 L424.2 1036.6 L425.6 1033.7 L426.9 1040.0 L428.2 1038.4 L429.5 1038.7 L430.8 1046.0 L432.1 1043.3 L433.4 1050.1 L434.7 1046.5 L436.0 1051.5 L437.6 1051.4 L439.1 1049.3 L440.4 1042.4 L441.8 1038.9 L443.1 1030.9 L444.4 1026.1 L445.6 1032.3 L446.7 1033.2 L447.9 1038.4 L449.1 1046.6 L450.2 1050.8 L451.4 1058.1 L452.7 1057.6 L454.0 1049.4 L455.3 1047.2 L456.5 1043.8 L457.6 1034.8 L458.8 1031.8 L460.1 1034.3 L461.3 1028.9 L462.6 1033.1 L463.8 1027.4 L465.1 1030.6 L466.3 1026.1 L467.6 1027.4 L468.9 1028.0 L470.1 1026.1 L471.4 1028.9 L472.6 1027.9 L473.9 1031.2 L475.1 1027.8 L476.4 1028.8 L477.7 1030.7 L479.0 1026.5 L480.3 1031.2 L481.6 1028.0 L482.9 1031.4 L484.2 1029.6 L485.5 1030.7 L486.9 1038.5 L488.2 1038.2 L489.5 1041.9 L491.7 1040.6 L493.9 1071.2 L495.3 1067.4 L496.8 1058.5 L498.2 1053.7 L499.5 1052.1 L500.9 1045.6 L502.2 1047.4 L503.5 1042.8 L504.9 1039.1 L506.4 1042.2 L507.8 1034.7 L509.2 1036.2 L510.5 1039.6 L511.8 1037.5 L513.2 1043.3 L514.5 1041.4 L515.8 1045.0 L517.2 1052.5 L518.7 1053.5 L520.1 1060.3 L521.4 1062.7 L522.7 1059.4 L524.1 1064.8 L525.4 1059.6 L526.7 1062.5 L528.0 1068.6 L529.3 1065.4 L530.7 1072.8 L532.0 1072.7 L533.3 1077.8 L534.8 1083.2 L536.2 1079.3 L537.7 1084.4 L538.9 1083.7 L540.0 1080.8 L541.2 1080.0 L542.5 1087.1 L543.8 1090.3 L545.1 1096.2 L546.5 1093.7 L548.0 1088.7 L549.4 1088.1 L550.8 1082.2 L552.3 1078.0 L553.7 1082.3 L555.2 1077.8 L556.7 1069.0 L558.1 1064.3 L559.6 1053.7 L561.1 1054.3 L562.5 1060.3 L564.0 1062.5 L565.3 1060.6 L566.6 1068.0 L567.9 1064.8 L569.2 1066.9 L570.5 1068.0 L571.8 1061.0 L573.2 1062.1 L574.5 1054.7 L575.8 1058.8 L577.1 1053.7 L578.4 1052.5 L579.7 1054.5 L581.1 1050.5 L582.4 1053.3 L583.7 1051.5 L585.0 1048.7 L586.3 1048.9 L587.6 1043.2 L588.9 1044.2 L590.2 1041.9 L591.7 1040.9 L593.1 1045.6 L594.6 1045.0 L595.9 1042.0 L597.2 1041.0 L598.6 1034.8 L599.9 1036.3 L601.2 1031.8 L602.5 1029.3 L603.8 1031.2 L605.1 1023.1 L606.4 1027.1 L607.7 1021.8 L609.2 1023.8 L610.6 1028.1 L612.1 1029.6 L613.4 1027.4 L614.7 1028.8 L616.1 1023.2 L617.4 1023.3 L618.7 1020.9 L620.0 1019.1 L621.3 1023.7 L622.7 1017.5 L624.0 1021.3 L625.3 1020.0 L626.6 1018.1 L627.9 1020.9 L629.2 1014.5 L630.5 1017.9 L631.8 1014.3 L633.1 1012.8 L634.4 1013.0 L635.8 1009.2 L637.1 1012.4 L638.4 1009.9 L639.7 1008.0 L640.9 1010.4 L642.2 1003.5 L643.4 1007.2 L644.7 1002.5 L645.9 1004.6 L647.2 1000.3 L648.6 1001.5 L650.1 1006.7 L651.5 1005.5 L652.7 1008.9 L653.8 1017.1 L655.0 1020.9 L656.5 1010.3 L658.1 1001.2 L659.4 1002.9 L660.7 997.1 L662.1 997.4 L663.4 993.3 L664.7 993.7 L666.2 993.6 L667.6 990.7 L669.1 990.2 L670.3 981.2 L671.4 970.9 L672.6 961.8 L673.9 966.6 L675.2 968.2 L676.5 974.5 L677.8 977.1 L679.3 975.9 L680.7 981.2 L682.2 981.5 L684.4 972.7 L685.8 976.0 L687.2 983.9 L688.7 986.8 L690.1 993.3 L691.4 988.5 L692.7 981.9 L694.0 978.2 L695.3 972.7 L696.6 970.1 L697.9 974.7 L699.3 971.8 L700.6 974.5 L701.9 972.7 L703.4 966.6 L704.8 967.5 L706.3 963.9 L707.6 960.2 L708.9 963.8 L710.3 959.5 L711.6 963.3 L712.9 959.6 L714.3 958.8 L715.8 962.9 L717.2 961.8 L718.5 955.0 L719.8 956.4 L721.2 947.3 L722.5 947.2 L723.8 939.9 L725.3 933.0 L726.7 933.4 L728.2 926.7 L729.5 924.5 L730.8 926.9 L732.1 924.4 L733.4 925.0 L734.7 923.7 L736.0 914.8 L737.4 907.6 L738.7 897.5 L740.0 889.5 L741.4 891.4 L742.9 891.1 L744.3 895.7 L745.7 893.9 L746.9 885.8 L748.0 886.0 L749.2 878.5 L750.8 883.9 L752.3 891.7 L753.5 899.0 L754.6 903.0 L755.8 910.5 L757.1 905.9 L758.4 897.0 L759.7 893.1 L761.0 885.1 L762.5 878.9 L763.9 878.2 L765.4 869.8 L766.7 863.7 L768.0 866.3 L769.4 860.5 L770.7 858.8 L771.9 846.3 L773.1 831.4 L774.6 824.3 L776.0 821.1 L777.5 813.9 L779.0 803.4 L780.4 794.1 L781.9 783.2 L783.1 786.5 L784.2 795.3 L785.4 798.5 L787.0 795.4 L788.5 794.1 L789.9 788.7 L791.4 779.3 L792.8 772.3 L794.3 779.3 L795.7 783.4 L797.2 789.8 L798.8 804.7 L800.3 818.3 L801.5 836.9 L802.6 856.6 L803.8 875.2 L805.0 868.1 L806.1 864.6 L807.3 857.7 L808.8 846.8 L810.2 842.1 L811.7 831.4 L813.0 834.2 L814.3 844.7 L815.6 845.3 L816.9 853.3 L818.4 850.5 L819.8 840.1 L821.3 835.8 L822.8 844.4 L824.2 847.0 L825.7 857.7 L826.9 865.0 L828.0 868.3 L829.2 877.4 L830.5 881.3 L831.9 880.2 L833.2 885.2 L834.5 883.9 L835.7 883.8 L836.8 892.0 L838.0 892.7 L839.5 882.5 L841.0 877.4 L842.5 887.9 L843.9 895.9 L845.4 905.8 L846.6 915.3 L847.7 922.6 L848.9 932.1 L850.2 928.4 L851.5 916.2 L852.9 915.2 L854.2 905.8 L855.5 902.4 L856.8 906.3 L858.1 899.5 L859.4 903.0 L860.7 899.3 L862.2 909.7 L863.6 921.5 L865.1 932.1 L866.6 929.2 L868.0 929.1 L869.5 925.5 L870.8 925.2 L872.1 929.1 L873.4 924.5 L874.7 926.9 L876.1 932.6 L877.5 931.7 L879.0 939.8 L880.4 940.9 L881.9 936.9 L883.3 936.8 L884.8 934.3 L886.3 927.2 L887.7 928.2 L889.2 921.2 L890.7 926.6 L892.1 937.8 L893.6 943.1 L894.8 941.8 L895.9 945.6 L897.1 946.1 L898.4 937.4 L899.7 934.9 L901.0 927.7 L902.2 912.7 L903.3 899.0 L904.5 883.9 L905.8 876.4 L907.1 875.0 L908.5 866.5 L909.8 864.2 L911.0 875.6 L912.1 883.9 L913.3 894.9 L914.8 891.3 L916.2 882.9 L917.7 879.6 L919.0 878.9 L920.3 870.8 L921.6 872.6 L922.9 865.0 L924.2 864.2 L925.7 858.2 L927.1 850.3 L928.6 844.5 L930.1 847.1 L931.5 844.8 L933.0 848.9 L934.2 845.0 L935.3 836.6 L936.5 833.6 L938.0 850.3 L939.6 866.4 L941.8 945.3 L943.3 992.6 L944.8 1040.7 L946.0 1029.9 L947.1 1017.1 L948.3 1006.6 L950.5 1013.1 L951.7 985.6 L952.8 955.3 L954.0 927.7 L956.2 969.3 L957.7 979.3 L959.1 984.9 L960.6 995.6 L961.9 993.5 L963.2 986.2 L964.5 984.8 L965.8 980.3 L967.3 979.4 L968.7 985.6 L970.2 986.9 L971.7 974.8 L973.1 966.1 L974.6 954.0 L976.2 935.1 L977.7 916.8 L978.9 925.1 L980.1 927.1 L981.3 939.8 L982.5 943.1 L983.8 937.6 L985.1 936.5 L986.4 930.6 L987.7 927.7 L989.2 931.7 L990.6 928.2 L992.1 929.9 L993.6 924.7 L995.0 914.6 L996.5 908.0 L997.7 907.0 L998.8 898.9 L1000.0 899.3 L1001.5 921.6 L1003.1 943.1 L1004.6 946.8 L1006.1 956.2 L1007.3 936.5 L1008.4 914.2 L1009.6 894.9 L1011.1 897.4 L1012.5 893.9 L1014.0 894.9 L1015.5 895.0 L1016.9 887.2 L1018.4 886.1 L1019.9 882.8 L1021.3 878.5 L1022.8 875.2 L1024.3 889.1 L1025.8 901.5 L1027.0 892.0 L1028.1 884.5 L1029.3 875.2 L1030.8 869.4 L1032.2 866.4 L1033.7 859.9 L1035.0 854.7 L1036.3 854.9 L1037.7 847.7 L1039.0 846.7 L1040.3 840.1 L1041.8 829.9 L1043.2 826.2 L1044.7 818.3 L1046.2 810.0 L1047.6 810.5 L1049.1 802.9 L1050.3 801.3 L1051.4 807.0 L1052.6 807.3 L1053.9 802.2 L1055.2 801.6 L1056.5 796.4 L1057.7 812.0 L1058.8 830.8 L1060.0 846.7 L1061.5 831.9 L1063.1 818.3 L1064.3 820.6 L1065.4 818.5 L1066.6 820.4 L1067.8 835.3 L1068.9 849.2 L1070.1 864.2 L1071.6 853.6 L1073.0 840.3 L1074.5 829.2 L1075.9 836.8 L1077.4 836.9 L1078.8 842.3 L1080.1 836.9 L1081.4 827.3 L1082.8 823.5 L1084.1 816.1 L1085.3 811.0 L1086.4 812.0 L1087.6 805.1 L1088.9 804.3 L1090.2 812.3 L1091.6 809.4 L1092.9 813.9 L1094.2 817.8 L1095.5 812.2 L1096.8 818.1 L1098.1 814.3 L1099.4 818.0 L1100.7 818.3 L1101.9 809.9 L1103.2 804.1 L1104.4 794.9 L1105.7 789.3 L1106.9 781.0 L1108.3 784.2 L1109.8 790.2 L1111.2 791.0 L1112.6 798.5 L1114.0 794.8 L1115.5 788.0 L1116.9 785.4 L1118.5 790.1 L1120.0 792.0 L1121.2 784.2 L1122.3 781.5 L1123.5 772.3 L1124.7 784.3 L1125.8 799.1 L1127.0 811.7 L1128.3 798.2 L1129.7 787.1 L1131.0 773.1 L1132.3 761.3 L1133.8 765.0 L1135.2 764.9 L1136.7 767.9 L1137.9 775.3 L1139.0 780.1 L1140.2 787.6 L1141.5 780.0 L1142.8 769.4 L1144.1 761.8 L1145.4 752.6 L1146.9 743.6 L1148.3 744.3 L1149.8 735.0 L1151.0 737.0 L1152.1 743.1 L1153.3 746.0 L1154.6 746.2 L1155.9 748.8 L1157.2 747.9 L1158.5 750.4 L1159.7 754.6 L1160.8 756.6 L1162.0 761.3 L1163.5 758.8 L1164.9 752.0 L1166.4 750.4 L1167.7 761.0 L1169.0 768.5 L1170.3 779.7 L1171.6 788.6 L1172.8 781.6 L1174.0 779.8 L1175.2 771.0 L1176.4 767.1 L1177.6 767.5 L1178.9 764.7 L1180.1 765.4 L1181.4 760.0 L1182.6 762.3 L1183.8 769.0 L1185.0 772.4 L1186.2 782.5 L1187.4 786.2 L1188.6 788.0 L1189.8 796.8 L1191.0 799.5 L1192.2 805.4 L1193.6 805.7 L1195.1 802.3 L1196.5 803.0 L1198.0 824.1 L1199.4 843.7 L1201.1 846.4 L1202.7 855.7 L1204.2 877.2 L1205.6 896.5 L1207.0 885.8 L1208.5 877.6 L1209.9 867.7 L1211.1 870.3 L1212.3 876.2 L1213.5 873.6 L1214.7 879.7 L1215.9 877.9 L1217.1 870.4 L1218.3 869.2 L1219.5 865.3 L1221.2 868.6 L1222.8 874.9 L1224.1 868.0 L1225.4 857.9 L1226.7 850.9 L1227.9 860.5 L1229.1 860.8 L1230.3 871.8 L1231.5 877.3 L1232.7 872.5 L1233.8 869.7 L1235.0 862.8 L1236.2 860.5 L1237.4 866.5 L1238.6 864.5 L1239.8 873.8 L1241.0 874.9 L1242.2 871.0 L1243.4 874.4 L1244.6 868.4 L1245.8 870.5 L1247.0 866.5 L1248.2 865.3 L1249.4 872.2 L1250.6 872.7 L1251.8 881.1 L1253.0 882.1 L1254.2 879.4 L1255.4 882.5 L1256.6 880.2 L1257.8 881.6 L1259.0 877.8 L1260.2 879.7 L1261.4 888.9 L1262.5 892.5 L1263.7 900.3 L1264.8 904.6 L1266.0 913.2 L1267.3 912.1 L1268.5 905.3 L1269.8 903.6 L1271.0 898.6 L1272.2 889.5 L1273.4 886.0 L1274.6 879.7 L1275.8 880.9 L1277.0 886.2 L1278.2 883.6 L1279.4 889.3 L1280.6 888.0 L1281.8 879.1 L1283.0 880.3 L1284.2 874.9 L1285.5 866.7 L1286.7 861.6 L1288.0 853.3 L1289.2 856.6 L1290.4 869.0 L1291.6 871.8 L1292.8 879.7 L1294.1 882.5 L1295.5 882.7 L1296.8 889.3 L1298.2 887.7 L1299.5 891.7 L1300.7 886.8 L1301.9 877.3 L1303.1 876.9 L1304.3 867.7 L1305.6 857.6 L1306.8 848.9 L1308.1 839.0 L1309.3 834.1 L1310.5 833.4 L1311.7 825.8 L1312.9 824.6 L1314.1 821.3 L1315.3 813.4 L1316.5 814.6 L1317.7 807.8 L1318.9 803.9 L1320.1 804.7 L1321.3 798.5 L1322.5 801.1 L1323.7 795.0 L1324.9 795.8 L1326.1 792.0 L1327.3 785.3 L1328.5 784.1 L1329.7 776.7 L1330.9 781.5 L1332.1 791.9 L1333.3 792.8 L1334.5 800.6 L1335.7 799.1 L1336.9 794.8 L1338.1 795.0 L1339.3 788.6 L1340.5 791.8 L1341.7 786.2 L1342.9 789.6 L1344.1 796.1 L1345.3 797.8 L1346.5 803.0 L1347.7 809.3 L1348.8 808.3 L1350.0 812.5 L1351.2 815.0 L1352.4 820.5 L1353.6 828.5 L1354.8 829.9 L1356.0 839.0 L1357.3 838.8 L1358.6 830.0 L1359.9 829.4 L1361.1 837.0 L1362.3 834.6 L1363.5 843.2 L1364.7 846.1 L1366.3 839.3 L1368.0 834.2 L1369.5 865.3 L1371.2 878.1 L1372.8 884.5 L1374.0 883.7 L1375.2 888.5 L1376.4 887.5 L1377.6 891.7 L1378.9 903.5 L1380.1 913.4 L1381.4 925.2 L1382.8 922.5 L1384.3 916.4 L1385.7 913.2 L1387.0 919.9 L1388.3 924.8 L1389.6 932.4 L1390.8 929.0 L1392.0 919.5 L1393.2 918.7 L1394.4 913.2 L1395.6 932.4 L1396.8 954.0 L1398.0 930.5 L1399.2 906.0 L1400.5 889.4 L1401.7 875.1 L1403.0 858.1 L1404.7 873.9 L1406.3 891.7 L1407.5 886.7 L1408.7 878.0 L1409.9 873.7 L1411.1 865.3 L1412.8 887.4 L1414.5 910.8 L1415.8 897.6 L1417.0 881.6 L1418.3 867.7 L1419.6 874.7 L1420.9 875.8 L1422.2 884.5 L1423.8 872.8 L1425.5 860.5 L1426.7 860.7 L1427.9 866.9 L1429.1 863.2 L1430.3 867.7 L1432.0 862.1 L1433.7 855.7 L1435.1 878.1 L1436.5 901.2 L1437.7 910.0 L1438.9 916.9 L1440.1 926.9 L1441.3 934.8 L1442.5 938.8 L1443.7 951.0 L1444.9 953.2 L1446.1 961.1 L1447.8 968.2 L1449.5 973.1 L1450.8 980.7 L1452.0 991.6 L1453.3 999.5 L1455.0 985.8 L1456.7 973.1 L1457.9 975.6 L1459.1 971.8 L1460.3 974.3 L1461.5 973.1 L1463.8 1006.7 L1465.5 1025.5 L1467.2 1045.0 L1468.7 1074.7 L1470.1 1102.5 L1472.0 1121.7 L1473.4 1141.8 L1473.4 1312.2Z"/></clipPath>
<g>
<line x1="0.0" y1="686.9" x2="1514.8" y2="686.9" stroke="#858585" stroke-width="1.3" stroke-dasharray="18.3 3.2 3.2 2.9" stroke-dashoffset="6"/>
<line x1="0.0" y1="831.6" x2="1514.8" y2="831.6" stroke="#858585" stroke-width="1.3" stroke-dasharray="18.3 3.2 3.2 2.9" stroke-dashoffset="6"/>
<line x1="0.0" y1="974.4" x2="1514.8" y2="974.4" stroke="#858585" stroke-width="1.3" stroke-dasharray="18.3 3.2 3.2 2.9" stroke-dashoffset="6"/>
<line x1="0.0" y1="1119.4" x2="1514.8" y2="1119.4" stroke="#858585" stroke-width="1.3" stroke-dasharray="18.3 3.2 3.2 2.9" stroke-dashoffset="6"/>
<line x1="0.0" y1="1262.8" x2="1514.8" y2="1262.8" stroke="#858585" stroke-width="1.3" stroke-dasharray="18.3 3.2 3.2 2.9" stroke-dashoffset="6"/>
<line x1="19.8" y1="683.0" x2="19.8" y2="1313.0" stroke="#858585" stroke-width="1.3" stroke-dasharray="7 3 2 3"/>
<line x1="45.0" y1="683.0" x2="45.0" y2="1313.0" stroke="#858585" stroke-width="1.3" stroke-dasharray="7 3 2 3"/>
<line x1="330.9" y1="683.0" x2="330.9" y2="1313.0" stroke="#858585" stroke-width="1.3" stroke-dasharray="7 3 2 3"/>
<line x1="608.7" y1="683.0" x2="608.7" y2="1313.0" stroke="#858585" stroke-width="1.3" stroke-dasharray="7 3 2 3"/>
<line x1="886.6" y1="683.0" x2="886.6" y2="1313.0" stroke="#858585" stroke-width="1.3" stroke-dasharray="7 3 2 3"/>
<line x1="1164.5" y1="683.0" x2="1164.5" y2="1313.0" stroke="#858585" stroke-width="1.3" stroke-dasharray="7 3 2 3"/>
<line x1="1442.2" y1="683.0" x2="1442.2" y2="1313.0" stroke="#858585" stroke-width="1.3" stroke-dasharray="7 3 2 3"/>
</g>
<g clip-path="url(#c3)">
<line x1="0.0" y1="686.9" x2="1514.8" y2="686.9" stroke="#5f7c99" stroke-width="1.3" stroke-dasharray="18.3 3.2 3.2 2.9" stroke-dashoffset="6"/>
<line x1="0.0" y1="831.6" x2="1514.8" y2="831.6" stroke="#5f7c99" stroke-width="1.3" stroke-dasharray="18.3 3.2 3.2 2.9" stroke-dashoffset="6"/>
<line x1="0.0" y1="974.4" x2="1514.8" y2="974.4" stroke="#5f7c99" stroke-width="1.3" stroke-dasharray="18.3 3.2 3.2 2.9" stroke-dashoffset="6"/>
<line x1="0.0" y1="1119.4" x2="1514.8" y2="1119.4" stroke="#5f7c99" stroke-width="1.3" stroke-dasharray="18.3 3.2 3.2 2.9" stroke-dashoffset="6"/>
<line x1="0.0" y1="1262.8" x2="1514.8" y2="1262.8" stroke="#5f7c99" stroke-width="1.3" stroke-dasharray="18.3 3.2 3.2 2.9" stroke-dashoffset="6"/>
<line x1="19.8" y1="683.0" x2="19.8" y2="1313.0" stroke="#5f7c99" stroke-width="1.3" stroke-dasharray="7 3 2 3"/>
<line x1="45.0" y1="683.0" x2="45.0" y2="1313.0" stroke="#5f7c99" stroke-width="1.3" stroke-dasharray="7 3 2 3"/>
<line x1="330.9" y1="683.0" x2="330.9" y2="1313.0" stroke="#5f7c99" stroke-width="1.3" stroke-dasharray="7 3 2 3"/>
<line x1="608.7" y1="683.0" x2="608.7" y2="1313.0" stroke="#5f7c99" stroke-width="1.3" stroke-dasharray="7 3 2 3"/>
<line x1="886.6" y1="683.0" x2="886.6" y2="1313.0" stroke="#5f7c99" stroke-width="1.3" stroke-dasharray="7 3 2 3"/>
<line x1="1164.5" y1="683.0" x2="1164.5" y2="1313.0" stroke="#5f7c99" stroke-width="1.3" stroke-dasharray="7 3 2 3"/>
<line x1="1442.2" y1="683.0" x2="1442.2" y2="1313.0" stroke="#5f7c99" stroke-width="1.3" stroke-dasharray="7 3 2 3"/>
</g>
<polyline points="0.0,1250.2 1.5,1251.1 2.9,1255.4 4.4,1256.8 6.6,1252.4 8.1,1254.9 9.6,1262.0 10.8,1261.6 12.0,1261.6 13.2,1261.6 14.4,1261.6 15.6,1261.6 16.8,1261.6 18.0,1261.6 19.1,1261.6 20.3,1261.6 21.5,1261.6 22.7,1261.6 23.9,1261.6 25.1,1261.6 26.3,1261.2 27.6,1241.9 28.9,1225.6 30.3,1205.2 31.6,1188.3 32.9,1169.2 35.0,1195.4 37.2,1171.3 38.8,1191.0 40.3,1213.0 41.5,1190.0 42.6,1165.2 43.8,1142.9 45.0,1099.6 46.1,1054.8 47.3,1011.4 49.1,1002.7 50.4,957.5 51.7,911.5 53.2,913.1 54.8,917.2 56.1,989.5 57.6,1012.4 59.1,1033.3 61.3,1037.7 63.5,1026.8 65.7,1039.9 67.9,1031.2 69.5,1047.1 71.0,1064.0 72.2,1064.6 73.3,1058.8 74.5,1059.6 76.7,1068.4 78.1,1065.5 79.6,1057.6 81.0,1055.2 82.5,1056.4 83.9,1056.2 85.4,1057.4 86.9,1055.4 88.3,1049.2 89.8,1048.7 91.2,1043.2 92.7,1033.2 94.1,1029.4 95.5,1020.2 97.0,1031.5 98.6,1044.3 100.1,1043.3 101.6,1039.9 102.8,1044.3 104.0,1056.6 105.3,1060.2 106.5,1068.4 107.8,1066.1 109.1,1057.7 110.4,1058.3 111.7,1048.3 113.0,1046.5 114.3,1046.6 115.7,1041.0 117.0,1043.9 118.3,1042.1 119.8,1041.2 121.2,1046.2 122.7,1044.3 123.9,1040.4 125.1,1039.8 126.3,1034.4 127.5,1034.0 128.8,1025.8 130.0,1027.4 131.2,1019.1 132.4,1020.2 133.6,1015.8 135.1,1017.7 136.5,1026.7 138.0,1029.0 139.5,1024.0 140.9,1024.8 142.4,1020.2 143.7,1020.1 144.9,1029.1 146.2,1027.0 147.4,1034.0 148.7,1034.0 150.0,1039.8 151.2,1037.8 152.5,1043.0 153.8,1042.9 155.1,1033.2 156.4,1033.7 157.7,1029.0 159.2,1028.2 160.6,1032.8 162.1,1031.2 163.4,1027.8 164.7,1026.8 166.1,1021.1 167.4,1019.5 168.7,1015.8 170.0,1016.2 171.3,1020.2 172.6,1017.7 173.9,1020.4 175.2,1020.2 176.4,1018.8 177.7,1023.4 178.9,1019.9 180.1,1022.2 181.3,1018.6 182.6,1023.7 183.8,1017.9 185.0,1023.8 186.3,1019.8 187.5,1021.0 188.8,1029.7 190.2,1036.4 191.5,1046.1 192.8,1053.0 194.1,1054.9 195.4,1064.1 196.7,1067.6 198.0,1073.6 199.3,1069.7 200.6,1062.8 201.9,1060.8 203.3,1051.9 204.6,1050.3 205.9,1044.3 207.4,1042.5 208.8,1043.0 210.3,1039.9 212.5,1044.3 213.8,1040.2 215.1,1041.1 216.4,1033.2 217.7,1036.3 219.0,1031.2 220.3,1026.2 221.6,1027.3 223.0,1019.6 224.3,1019.3 225.6,1015.8 227.8,1019.3 229.1,1011.0 230.3,1011.6 231.6,1000.7 232.8,1001.3 234.1,991.9 235.3,989.7 236.6,983.0 237.8,983.1 238.9,986.7 240.1,985.1 241.6,980.2 243.0,976.9 244.5,972.0 246.0,976.6 247.5,983.0 249.1,995.4 250.6,1007.0 252.0,1004.6 253.4,1005.3 254.9,1003.5 256.3,1002.7 257.7,1011.3 259.1,1017.8 260.6,1027.8 262.0,1034.2 263.3,1032.0 264.6,1033.5 266.0,1026.4 267.3,1026.8 268.6,1024.9 269.9,1020.4 271.2,1020.3 272.5,1014.8 273.8,1013.6 275.4,1020.9 276.9,1026.8 278.1,1023.9 279.2,1030.2 280.4,1026.8 281.9,1018.5 283.3,1015.4 284.8,1007.0 286.3,999.9 287.7,994.5 289.2,987.3 290.6,991.1 292.1,998.7 293.5,1002.7 294.8,997.0 296.1,997.9 297.4,994.0 298.8,994.8 300.1,986.8 301.4,986.0 302.6,988.4 303.9,987.4 305.1,991.4 306.4,990.8 307.6,997.8 308.9,996.1 310.4,992.4 311.8,997.1 313.3,993.9 314.5,993.1 315.8,996.0 317.0,994.0 318.3,997.9 319.5,993.5 320.8,998.5 322.0,996.1 323.5,1006.5 325.0,1018.0 326.2,1020.3 327.3,1017.8 328.5,1025.3 329.6,1020.3 330.8,1024.6 332.2,1028.5 333.6,1024.0 335.1,1030.5 336.5,1029.0 338.0,1039.0 339.5,1050.0 340.8,1049.9 342.1,1044.6 343.5,1044.4 344.8,1041.6 346.1,1040.0 347.6,1046.2 349.0,1049.0 350.5,1055.2 351.8,1059.3 353.1,1055.2 354.5,1061.8 355.8,1061.8 357.1,1056.4 358.4,1060.8 359.7,1052.0 361.0,1054.5 362.3,1049.9 363.6,1048.7 364.9,1047.5 366.1,1043.4 367.4,1043.0 368.6,1037.7 369.9,1040.8 371.1,1032.6 372.4,1033.3 373.9,1036.3 375.3,1033.3 376.8,1036.8 378.0,1038.5 379.3,1034.0 380.5,1035.8 381.8,1029.2 383.0,1034.0 384.3,1027.5 385.5,1029.0 386.7,1027.9 387.9,1022.3 389.1,1023.0 390.4,1016.0 391.6,1017.2 392.8,1008.2 394.0,1008.6 395.4,1013.0 396.9,1012.8 398.3,1020.4 399.7,1020.0 401.0,1017.6 402.3,1021.2 403.7,1019.8 405.0,1021.5 406.3,1020.9 407.8,1018.5 409.2,1025.2 410.7,1023.1 412.0,1027.0 413.3,1035.4 414.6,1033.9 415.9,1041.9 417.3,1042.5 418.8,1037.0 420.2,1038.7 421.6,1034.9 422.9,1034.9 424.2,1036.6 425.6,1033.7 426.9,1040.0 428.2,1038.4 429.5,1038.7 430.8,1046.0 432.1,1043.3 433.4,1050.1 434.7,1046.5 436.0,1051.5 437.6,1051.4 439.1,1049.3 440.4,1042.4 441.8,1038.9 443.1,1030.9 444.4,1026.1 445.6,1032.3 446.7,1033.2 447.9,1038.4 449.1,1046.6 450.2,1050.8 451.4,1058.1 452.7,1057.6 454.0,1049.4 455.3,1047.2 456.5,1043.8 457.6,1034.8 458.8,1031.8 460.1,1034.3 461.3,1028.9 462.6,1033.1 463.8,1027.4 465.1,1030.6 466.3,1026.1 467.6,1027.4 468.9,1028.0 470.1,1026.1 471.4,1028.9 472.6,1027.9 473.9,1031.2 475.1,1027.8 476.4,1028.8 477.7,1030.7 479.0,1026.5 480.3,1031.2 481.6,1028.0 482.9,1031.4 484.2,1029.6 485.5,1030.7 486.9,1038.5 488.2,1038.2 489.5,1041.9 491.7,1040.6 493.9,1071.2 495.3,1067.4 496.8,1058.5 498.2,1053.7 499.5,1052.1 500.9,1045.6 502.2,1047.4 503.5,1042.8 504.9,1039.1 506.4,1042.2 507.8,1034.7 509.2,1036.2 510.5,1039.6 511.8,1037.5 513.2,1043.3 514.5,1041.4 515.8,1045.0 517.2,1052.5 518.7,1053.5 520.1,1060.3 521.4,1062.7 522.7,1059.4 524.1,1064.8 525.4,1059.6 526.7,1062.5 528.0,1068.6 529.3,1065.4 530.7,1072.8 532.0,1072.7 533.3,1077.8 534.8,1083.2 536.2,1079.3 537.7,1084.4 538.9,1083.7 540.0,1080.8 541.2,1080.0 542.5,1087.1 543.8,1090.3 545.1,1096.2 546.5,1093.7 548.0,1088.7 549.4,1088.1 550.8,1082.2 552.3,1078.0 553.7,1082.3 555.2,1077.8 556.7,1069.0 558.1,1064.3 559.6,1053.7 561.1,1054.3 562.5,1060.3 564.0,1062.5 565.3,1060.6 566.6,1068.0 567.9,1064.8 569.2,1066.9 570.5,1068.0 571.8,1061.0 573.2,1062.1 574.5,1054.7 575.8,1058.8 577.1,1053.7 578.4,1052.5 579.7,1054.5 581.1,1050.5 582.4,1053.3 583.7,1051.5 585.0,1048.7 586.3,1048.9 587.6,1043.2 588.9,1044.2 590.2,1041.9 591.7,1040.9 593.1,1045.6 594.6,1045.0 595.9,1042.0 597.2,1041.0 598.6,1034.8 599.9,1036.3 601.2,1031.8 602.5,1029.3 603.8,1031.2 605.1,1023.1 606.4,1027.1 607.7,1021.8 609.2,1023.8 610.6,1028.1 612.1,1029.6 613.4,1027.4 614.7,1028.8 616.1,1023.2 617.4,1023.3 618.7,1020.9 620.0,1019.1 621.3,1023.7 622.7,1017.5 624.0,1021.3 625.3,1020.0 626.6,1018.1 627.9,1020.9 629.2,1014.5 630.5,1017.9 631.8,1014.3 633.1,1012.8 634.4,1013.0 635.8,1009.2 637.1,1012.4 638.4,1009.9 639.7,1008.0 640.9,1010.4 642.2,1003.5 643.4,1007.2 644.7,1002.5 645.9,1004.6 647.2,1000.3 648.6,1001.5 650.1,1006.7 651.5,1005.5 652.7,1008.9 653.8,1017.1 655.0,1020.9 656.5,1010.3 658.1,1001.2 659.4,1002.9 660.7,997.1 662.1,997.4 663.4,993.3 664.7,993.7 666.2,993.6 667.6,990.7 669.1,990.2 670.3,981.2 671.4,970.9 672.6,961.8 673.9,966.6 675.2,968.2 676.5,974.5 677.8,977.1 679.3,975.9 680.7,981.2 682.2,981.5 684.4,972.7 685.8,976.0 687.2,983.9 688.7,986.8 690.1,993.3 691.4,988.5 692.7,981.9 694.0,978.2 695.3,972.7 696.6,970.1 697.9,974.7 699.3,971.8 700.6,974.5 701.9,972.7 703.4,966.6 704.8,967.5 706.3,963.9 707.6,960.2 708.9,963.8 710.3,959.5 711.6,963.3 712.9,959.6 714.3,958.8 715.8,962.9 717.2,961.8 718.5,955.0 719.8,956.4 721.2,947.3 722.5,947.2 723.8,939.9 725.3,933.0 726.7,933.4 728.2,926.7 729.5,924.5 730.8,926.9 732.1,924.4 733.4,925.0 734.7,923.7 736.0,914.8 737.4,907.6 738.7,897.5 740.0,889.5 741.4,891.4 742.9,891.1 744.3,895.7 745.7,893.9 746.9,885.8 748.0,886.0 749.2,878.5 750.8,883.9 752.3,891.7 753.5,899.0 754.6,903.0 755.8,910.5 757.1,905.9 758.4,897.0 759.7,893.1 761.0,885.1 762.5,878.9 763.9,878.2 765.4,869.8 766.7,863.7 768.0,866.3 769.4,860.5 770.7,858.8 771.9,846.3 773.1,831.4 774.6,824.3 776.0,821.1 777.5,813.9 779.0,803.4 780.4,794.1 781.9,783.2 783.1,786.5 784.2,795.3 785.4,798.5 787.0,795.4 788.5,794.1 789.9,788.7 791.4,779.3 792.8,772.3 794.3,779.3 795.7,783.4 797.2,789.8 798.8,804.7 800.3,818.3 801.5,836.9 802.6,856.6 803.8,875.2 805.0,868.1 806.1,864.6 807.3,857.7 808.8,846.8 810.2,842.1 811.7,831.4 813.0,834.2 814.3,844.7 815.6,845.3 816.9,853.3 818.4,850.5 819.8,840.1 821.3,835.8 822.8,844.4 824.2,847.0 825.7,857.7 826.9,865.0 828.0,868.3 829.2,877.4 830.5,881.3 831.9,880.2 833.2,885.2 834.5,883.9 835.7,883.8 836.8,892.0 838.0,892.7 839.5,882.5 841.0,877.4 842.5,887.9 843.9,895.9 845.4,905.8 846.6,915.3 847.7,922.6 848.9,932.1 850.2,928.4 851.5,916.2 852.9,915.2 854.2,905.8 855.5,902.4 856.8,906.3 858.1,899.5 859.4,903.0 860.7,899.3 862.2,909.7 863.6,921.5 865.1,932.1 866.6,929.2 868.0,929.1 869.5,925.5 870.8,925.2 872.1,929.1 873.4,924.5 874.7,926.9 876.1,932.6 877.5,931.7 879.0,939.8 880.4,940.9 881.9,936.9 883.3,936.8 884.8,934.3 886.3,927.2 887.7,928.2 889.2,921.2 890.7,926.6 892.1,937.8 893.6,943.1 894.8,941.8 895.9,945.6 897.1,946.1 898.4,937.4 899.7,934.9 901.0,927.7 902.2,912.7 903.3,899.0 904.5,883.9 905.8,876.4 907.1,875.0 908.5,866.5 909.8,864.2 911.0,875.6 912.1,883.9 913.3,894.9 914.8,891.3 916.2,882.9 917.7,879.6 919.0,878.9 920.3,870.8 921.6,872.6 922.9,865.0 924.2,864.2 925.7,858.2 927.1,850.3 928.6,844.5 930.1,847.1 931.5,844.8 933.0,848.9 934.2,845.0 935.3,836.6 936.5,833.6 938.0,850.3 939.6,866.4 941.8,945.3 943.3,992.6 944.8,1040.7 946.0,1029.9 947.1,1017.1 948.3,1006.6 950.5,1013.1 951.7,985.6 952.8,955.3 954.0,927.7 956.2,969.3 957.7,979.3 959.1,984.9 960.6,995.6 961.9,993.5 963.2,986.2 964.5,984.8 965.8,980.3 967.3,979.4 968.7,985.6 970.2,986.9 971.7,974.8 973.1,966.1 974.6,954.0 976.2,935.1 977.7,916.8 978.9,925.1 980.1,927.1 981.3,939.8 982.5,943.1 983.8,937.6 985.1,936.5 986.4,930.6 987.7,927.7 989.2,931.7 990.6,928.2 992.1,929.9 993.6,924.7 995.0,914.6 996.5,908.0 997.7,907.0 998.8,898.9 1000.0,899.3 1001.5,921.6 1003.1,943.1 1004.6,946.8 1006.1,956.2 1007.3,936.5 1008.4,914.2 1009.6,894.9 1011.1,897.4 1012.5,893.9 1014.0,894.9 1015.5,895.0 1016.9,887.2 1018.4,886.1 1019.9,882.8 1021.3,878.5 1022.8,875.2 1024.3,889.1 1025.8,901.5 1027.0,892.0 1028.1,884.5 1029.3,875.2 1030.8,869.4 1032.2,866.4 1033.7,859.9 1035.0,854.7 1036.3,854.9 1037.7,847.7 1039.0,846.7 1040.3,840.1 1041.8,829.9 1043.2,826.2 1044.7,818.3 1046.2,810.0 1047.6,810.5 1049.1,802.9 1050.3,801.3 1051.4,807.0 1052.6,807.3 1053.9,802.2 1055.2,801.6 1056.5,796.4 1057.7,812.0 1058.8,830.8 1060.0,846.7 1061.5,831.9 1063.1,818.3 1064.3,820.6 1065.4,818.5 1066.6,820.4 1067.8,835.3 1068.9,849.2 1070.1,864.2 1071.6,853.6 1073.0,840.3 1074.5,829.2 1075.9,836.8 1077.4,836.9 1078.8,842.3 1080.1,836.9 1081.4,827.3 1082.8,823.5 1084.1,816.1 1085.3,811.0 1086.4,812.0 1087.6,805.1 1088.9,804.3 1090.2,812.3 1091.6,809.4 1092.9,813.9 1094.2,817.8 1095.5,812.2 1096.8,818.1 1098.1,814.3 1099.4,818.0 1100.7,818.3 1101.9,809.9 1103.2,804.1 1104.4,794.9 1105.7,789.3 1106.9,781.0 1108.3,784.2 1109.8,790.2 1111.2,791.0 1112.6,798.5 1114.0,794.8 1115.5,788.0 1116.9,785.4 1118.5,790.1 1120.0,792.0 1121.2,784.2 1122.3,781.5 1123.5,772.3 1124.7,784.3 1125.8,799.1 1127.0,811.7 1128.3,798.2 1129.7,787.1 1131.0,773.1 1132.3,761.3 1133.8,765.0 1135.2,764.9 1136.7,767.9 1137.9,775.3 1139.0,780.1 1140.2,787.6 1141.5,780.0 1142.8,769.4 1144.1,761.8 1145.4,752.6 1146.9,743.6 1148.3,744.3 1149.8,735.0 1151.0,737.0 1152.1,743.1 1153.3,746.0 1154.6,746.2 1155.9,748.8 1157.2,747.9 1158.5,750.4 1159.7,754.6 1160.8,756.6 1162.0,761.3 1163.5,758.8 1164.9,752.0 1166.4,750.4 1167.7,761.0 1169.0,768.5 1170.3,779.7 1171.6,788.6 1172.8,781.6 1174.0,779.8 1175.2,771.0 1176.4,767.1 1177.6,767.5 1178.9,764.7 1180.1,765.4 1181.4,760.0 1182.6,762.3 1183.8,769.0 1185.0,772.4 1186.2,782.5 1187.4,786.2 1188.6,788.0 1189.8,796.8 1191.0,799.5 1192.2,805.4 1193.6,805.7 1195.1,802.3 1196.5,803.0 1198.0,824.1 1199.4,843.7 1201.1,846.4 1202.7,855.7 1204.2,877.2 1205.6,896.5 1207.0,885.8 1208.5,877.6 1209.9,867.7 1211.1,870.3 1212.3,876.2 1213.5,873.6 1214.7,879.7 1215.9,877.9 1217.1,870.4 1218.3,869.2 1219.5,865.3 1221.2,868.6 1222.8,874.9 1224.1,868.0 1225.4,857.9 1226.7,850.9 1227.9,860.5 1229.1,860.8 1230.3,871.8 1231.5,877.3 1232.7,872.5 1233.8,869.7 1235.0,862.8 1236.2,860.5 1237.4,866.5 1238.6,864.5 1239.8,873.8 1241.0,874.9 1242.2,871.0 1243.4,874.4 1244.6,868.4 1245.8,870.5 1247.0,866.5 1248.2,865.3 1249.4,872.2 1250.6,872.7 1251.8,881.1 1253.0,882.1 1254.2,879.4 1255.4,882.5 1256.6,880.2 1257.8,881.6 1259.0,877.8 1260.2,879.7 1261.4,888.9 1262.5,892.5 1263.7,900.3 1264.8,904.6 1266.0,913.2 1267.3,912.1 1268.5,905.3 1269.8,903.6 1271.0,898.6 1272.2,889.5 1273.4,886.0 1274.6,879.7 1275.8,880.9 1277.0,886.2 1278.2,883.6 1279.4,889.3 1280.6,888.0 1281.8,879.1 1283.0,880.3 1284.2,874.9 1285.5,866.7 1286.7,861.6 1288.0,853.3 1289.2,856.6 1290.4,869.0 1291.6,871.8 1292.8,879.7 1294.1,882.5 1295.5,882.7 1296.8,889.3 1298.2,887.7 1299.5,891.7 1300.7,886.8 1301.9,877.3 1303.1,876.9 1304.3,867.7 1305.6,857.6 1306.8,848.9 1308.1,839.0 1309.3,834.1 1310.5,833.4 1311.7,825.8 1312.9,824.6 1314.1,821.3 1315.3,813.4 1316.5,814.6 1317.7,807.8 1318.9,803.9 1320.1,804.7 1321.3,798.5 1322.5,801.1 1323.7,795.0 1324.9,795.8 1326.1,792.0 1327.3,785.3 1328.5,784.1 1329.7,776.7 1330.9,781.5 1332.1,791.9 1333.3,792.8 1334.5,800.6 1335.7,799.1 1336.9,794.8 1338.1,795.0 1339.3,788.6 1340.5,791.8 1341.7,786.2 1342.9,789.6 1344.1,796.1 1345.3,797.8 1346.5,803.0 1347.7,809.3 1348.8,808.3 1350.0,812.5 1351.2,815.0 1352.4,820.5 1353.6,828.5 1354.8,829.9 1356.0,839.0 1357.3,838.8 1358.6,830.0 1359.9,829.4 1361.1,837.0 1362.3,834.6 1363.5,843.2 1364.7,846.1 1366.3,839.3 1368.0,834.2 1369.5,865.3 1371.2,878.1 1372.8,884.5 1374.0,883.7 1375.2,888.5 1376.4,887.5 1377.6,891.7 1378.9,903.5 1380.1,913.4 1381.4,925.2 1382.8,922.5 1384.3,916.4 1385.7,913.2 1387.0,919.9 1388.3,924.8 1389.6,932.4 1390.8,929.0 1392.0,919.5 1393.2,918.7 1394.4,913.2 1395.6,932.4 1396.8,954.0 1398.0,930.5 1399.2,906.0 1400.5,889.4 1401.7,875.1 1403.0,858.1 1404.7,873.9 1406.3,891.7 1407.5,886.7 1408.7,878.0 1409.9,873.7 1411.1,865.3 1412.8,887.4 1414.5,910.8 1415.8,897.6 1417.0,881.6 1418.3,867.7 1419.6,874.7 1420.9,875.8 1422.2,884.5 1423.8,872.8 1425.5,860.5 1426.7,860.7 1427.9,866.9 1429.1,863.2 1430.3,867.7 1432.0,862.1 1433.7,855.7 1435.1,878.1 1436.5,901.2 1437.7,910.0 1438.9,916.9 1440.1,926.9 1441.3,934.8 1442.5,938.8 1443.7,951.0 1444.9,953.2 1446.1,961.1 1447.8,968.2 1449.5,973.1 1450.8,980.7 1452.0,991.6 1453.3,999.5 1455.0,985.8 1456.7,973.1 1457.9,975.6 1459.1,971.8 1460.3,974.3 1461.5,973.1 1463.8,1006.7 1465.5,1025.5 1467.2,1045.0 1468.7,1074.7 1470.1,1102.5 1472.0,1121.7 1473.4,1141.8" fill="none" stroke="#e8ecf0" stroke-width="2.0" stroke-linejoin="round"/>
<line x1="1514.8" y1="683.0" x2="1514.8" y2="1316.4" stroke="#fff" stroke-width="2.6"/>
<line x1="0.0" y1="1314.9" x2="1517.8" y2="1314.9" stroke="#fff" stroke-width="2.4"/>
<line x1="122.5" y1="1312.6" x2="122.5" y2="1319.9" stroke="#fff" stroke-width="2.6"/>
<line x1="192.0" y1="1312.6" x2="192.0" y2="1319.9" stroke="#fff" stroke-width="2.6"/>
<line x1="261.4" y1="1312.6" x2="261.4" y2="1319.9" stroke="#fff" stroke-width="2.6"/>
<line x1="330.9" y1="1312.6" x2="330.9" y2="1319.9" stroke="#fff" stroke-width="2.6"/>
<line x1="400.4" y1="1312.6" x2="400.4" y2="1319.9" stroke="#fff" stroke-width="2.6"/>
<line x1="469.8" y1="1312.6" x2="469.8" y2="1319.9" stroke="#fff" stroke-width="2.6"/>
<line x1="539.3" y1="1312.6" x2="539.3" y2="1319.9" stroke="#fff" stroke-width="2.6"/>
<line x1="608.7" y1="1312.6" x2="608.7" y2="1319.9" stroke="#fff" stroke-width="2.6"/>
<line x1="678.2" y1="1312.6" x2="678.2" y2="1319.9" stroke="#fff" stroke-width="2.6"/>
<line x1="747.7" y1="1312.6" x2="747.7" y2="1319.9" stroke="#fff" stroke-width="2.6"/>
<line x1="817.1" y1="1312.6" x2="817.1" y2="1319.9" stroke="#fff" stroke-width="2.6"/>
<line x1="886.6" y1="1312.6" x2="886.6" y2="1319.9" stroke="#fff" stroke-width="2.6"/>
<line x1="956.0" y1="1312.6" x2="956.0" y2="1319.9" stroke="#fff" stroke-width="2.6"/>
<line x1="1025.5" y1="1312.6" x2="1025.5" y2="1319.9" stroke="#fff" stroke-width="2.6"/>
<line x1="1095.0" y1="1312.6" x2="1095.0" y2="1319.9" stroke="#fff" stroke-width="2.6"/>
<line x1="1164.4" y1="1312.6" x2="1164.4" y2="1319.9" stroke="#fff" stroke-width="2.6"/>
<line x1="1233.9" y1="1312.6" x2="1233.9" y2="1319.9" stroke="#fff" stroke-width="2.6"/>
<line x1="1303.3" y1="1312.6" x2="1303.3" y2="1319.9" stroke="#fff" stroke-width="2.6"/>
<line x1="1372.8" y1="1312.6" x2="1372.8" y2="1319.9" stroke="#fff" stroke-width="2.6"/>
<line x1="1442.3" y1="1312.6" x2="1442.3" y2="1319.9" stroke="#fff" stroke-width="2.6"/>
<line x1="1511.7" y1="1312.6" x2="1511.7" y2="1319.9" stroke="#fff" stroke-width="2.6"/>
<line x1="19.8" y1="1312.6" x2="19.8" y2="1319.9" stroke="#fff" stroke-width="2.6"/>
<line x1="45.0" y1="1312.6" x2="45.0" y2="1319.9" stroke="#fff" stroke-width="2.6"/>
<line x1="32.4" y1="1314.9" x2="32.4" y2="1355.5" stroke="#9a9a9a" stroke-width="1.6"/>
<line x1="886.6" y1="1314.9" x2="886.6" y2="1355.5" stroke="#9a9a9a" stroke-width="1.6"/>
<path d="M1514.8 683.7L1530.8 686.9L1514.8 690.1Z" fill="#fff"/>
<text x="1532.4" y="699.8" font-size="17.2" fill="#fff" textLength="38.0" lengthAdjust="spacingAndGlyphs" stroke="#fff" stroke-width="0.75">20M</text>
<path d="M1514.8 828.4L1530.8 831.6L1514.8 834.8Z" fill="#fff"/>
<text x="1532.4" y="837.8" font-size="17.2" fill="#fff" textLength="38.0" lengthAdjust="spacingAndGlyphs" stroke="#fff" stroke-width="0.75">15M</text>
<path d="M1514.8 971.2L1530.8 974.4L1514.8 977.6Z" fill="#fff"/>
<text x="1532.4" y="980.6" font-size="17.2" fill="#fff" textLength="38.0" lengthAdjust="spacingAndGlyphs" stroke="#fff" stroke-width="0.75">10M</text>
<path d="M1514.8 1116.2L1530.8 1119.4L1514.8 1122.6Z" fill="#fff"/>
<text x="1532.4" y="1125.6" font-size="17.2" fill="#fff" textLength="25.5" lengthAdjust="spacingAndGlyphs" stroke="#fff" stroke-width="0.75">5M</text>
<path d="M1514.8 1259.6L1530.8 1262.8L1514.8 1266.0Z" fill="#fff"/>
<text x="1532.4" y="1269.0" font-size="17.2" fill="#fff" textLength="11.5" lengthAdjust="spacingAndGlyphs" stroke="#fff" stroke-width="0.75">0</text>
<line x1="1514.8" y1="759.2" x2="1521.8" y2="759.2" stroke="#fff" stroke-width="1.6"/>
<line x1="1514.8" y1="903.0" x2="1521.8" y2="903.0" stroke="#fff" stroke-width="1.6"/>
<line x1="1514.8" y1="1046.9" x2="1521.8" y2="1046.9" stroke="#fff" stroke-width="1.6"/>
<line x1="1514.8" y1="1191.1" x2="1521.8" y2="1191.1" stroke="#fff" stroke-width="1.6"/>
<path d="M1518.6 1143.6L1527 1133.5H1603.4V1153.8H1527Z" fill="#fff"/>
<text x="1530.0" y="1150.5" font-size="16.5" fill="#000" textLength="69.0" lengthAdjust="spacingAndGlyphs" stroke="#000" stroke-width="0.3">4,135M</text>
<text x="457.5" y="1350.7" font-size="16.8" fill="#fff" text-anchor="middle" textLength="107.0" lengthAdjust="spacingAndGlyphs" stroke="#fff" stroke-width="0.75">2015-2019</text>
<text x="1198.5" y="1350.7" font-size="16.8" fill="#fff" text-anchor="middle" textLength="107.0" lengthAdjust="spacingAndGlyphs" stroke="#fff" stroke-width="0.75">2020-2024</text>
<path d="M1351.2 942L1417.4 1156.2M1400.1 1143.2L1417.4 1156.2L1427 1138.4" fill="none" stroke="#f4f4f4" stroke-width="2.2" stroke-linecap="round"/>
<rect x="256.6" y="775.0" width="363.7" height="93.3" fill="url(#hatch)" fill-opacity="0.86"/>
<rect x="267.7" y="787.9" width="11.8" height="8.8" fill="none" stroke="#8c8c8c" stroke-width="1.6"/>
<line x1="270.2" y1="792.3" x2="277.0" y2="792.3" stroke="#8c8c8c" stroke-width="1.6"/>
<path d="M274.3 797V850.6H281M274.3 812.5H281M274.3 832.1H309" fill="none" stroke="#8c8c8c" stroke-width="1.6"/>
<rect x="283.9" y="784.9" width="22.9" height="15.9" fill="#fff"/>
<path d="M289.8 804.8H302.4L295.9 809.5ZM295.9 806V818.1" fill="#8c8c8c" stroke="#8c8c8c" stroke-width="1.8"/>
<circle cx="295.9" cy="832.1" r="3.2" fill="#8c8c8c"/>
<path d="M295.9 843.9V857.9M289.8 856.5H302.4" fill="none" stroke="#8c8c8c" stroke-width="1.8"/>
<text x="313.1" y="800.1" font-size="15.2" fill="#fff" textLength="104.3" lengthAdjust="spacingAndGlyphs" stroke="#fff" stroke-width="0.75">Last Price</text>
<text x="607.7" y="800.1" font-size="15.2" fill="#fff" text-anchor="end" textLength="69.3" lengthAdjust="spacingAndGlyphs" stroke="#fff" stroke-width="0.75">4,135M</text>
<text x="313.1" y="818.8" font-size="15.2" fill="#fff" textLength="178.8" lengthAdjust="spacingAndGlyphs" stroke="#fff" stroke-width="0.75">High on 12/11/20</text>
<text x="607.7" y="818.8" font-size="15.2" fill="#fff" text-anchor="end" textLength="79.6" lengthAdjust="spacingAndGlyphs" stroke="#fff" stroke-width="0.75">18,380M</text>
<text x="313.1" y="838.0" font-size="15.2" fill="#fff" textLength="79.3" lengthAdjust="spacingAndGlyphs" stroke="#fff" stroke-width="0.75">Average</text>
<text x="607.7" y="838.0" font-size="15.2" fill="#fff" text-anchor="end" textLength="79.6" lengthAdjust="spacingAndGlyphs" stroke="#fff" stroke-width="0.75">10,685M</text>
<text x="313.1" y="857.6" font-size="15.2" fill="#fff" textLength="172.9" lengthAdjust="spacingAndGlyphs" stroke="#fff" stroke-width="0.75">Low on 10/31/13</text>
<text x="604.0" y="857.6" font-size="15.2" fill="#fff" text-anchor="end" textLength="99.5" lengthAdjust="spacingAndGlyphs" stroke="#fff" stroke-width="0.75">1590.0000</text>
</g>
<g id="p4">
<rect x="1604.0" y="681.5" width="1606.0" height="675.5" fill="#ffffff"/>
<rect x="1608.0" y="682.2" width="1602.0" height="1.3" fill="#e4e4e4"/>
<rect x="1604.0" y="682.5" width="4.5" height="674.5" fill="#f1f1f1"/>
<rect x="1607.6" y="682.5" width="1.6" height="674.5" fill="#d0d0d0"/>
<line x1="1743.9" y1="748.6" x2="1743.9" y2="1288.0" stroke="#000" stroke-width="4.2"/>
<line x1="1728.0" y1="1276.3" x2="3097.0" y2="1276.3" stroke="#000" stroke-width="3.8"/>
<line x1="1728.0" y1="1276.3" x2="1744.3" y2="1276.3" stroke="#000" stroke-width="3.8"/>
<text x="1647.8" y="1292.3" font-size="39.5" fill="#000" textLength="49.3" lengthAdjust="spacingAndGlyphs" stroke="#000" stroke-width="0.9">26</text>
<line x1="1728.0" y1="1188.7" x2="1744.3" y2="1188.7" stroke="#000" stroke-width="3.8"/>
<text x="1647.8" y="1204.2" font-size="39.5" fill="#000" textLength="49.3" lengthAdjust="spacingAndGlyphs" stroke="#000" stroke-width="0.9">28</text>
<line x1="1728.0" y1="1101.0" x2="1744.3" y2="1101.0" stroke="#000" stroke-width="3.8"/>
<text x="1647.8" y="1116.1" font-size="39.5" fill="#000" textLength="49.3" lengthAdjust="spacingAndGlyphs" stroke="#000" stroke-width="0.9">30</text>
<line x1="1728.0" y1="1013.4" x2="1744.3" y2="1013.4" stroke="#000" stroke-width="3.8"/>
<text x="1647.8" y="1028.0" font-size="39.5" fill="#000" textLength="49.3" lengthAdjust="spacingAndGlyphs" stroke="#000" stroke-width="0.9">32</text>
<line x1="1728.0" y1="925.7" x2="1744.3" y2="925.7" stroke="#000" stroke-width="3.8"/>
<text x="1647.8" y="939.9" font-size="39.5" fill="#000" textLength="49.3" lengthAdjust="spacingAndGlyphs" stroke="#000" stroke-width="0.9">34</text>
<line x1="1728.0" y1="838.1" x2="1744.3" y2="838.1" stroke="#000" stroke-width="3.8"/>
<text x="1647.8" y="851.8" font-size="39.5" fill="#000" textLength="49.3" lengthAdjust="spacingAndGlyphs" stroke="#000" stroke-width="0.9">36</text>
<line x1="1728.0" y1="750.5" x2="1744.3" y2="750.5" stroke="#000" stroke-width="3.8"/>
<text x="1647.8" y="763.7" font-size="39.5" fill="#000" textLength="49.3" lengthAdjust="spacingAndGlyphs" stroke="#000" stroke-width="0.9">38</text>
<line x1="2352.6" y1="1276.3" x2="2352.6" y2="1288.0" stroke="#000" stroke-width="3.9"/>
<line x1="2960.2" y1="1276.3" x2="2960.2" y2="1288.0" stroke="#000" stroke-width="3.9"/>
<text x="1741.9" y="1339.8" font-size="38.3" fill="#000" text-anchor="middle" textLength="134.2" lengthAdjust="spacingAndGlyphs" stroke="#000" stroke-width="0.9">Dec 21</text>
<text x="2353.5" y="1339.8" font-size="38.3" fill="#000" text-anchor="middle" textLength="129.5" lengthAdjust="spacingAndGlyphs" stroke="#000" stroke-width="0.9">Jan 22</text>
<text x="2962.2" y="1339.8" font-size="38.3" fill="#000" text-anchor="middle" textLength="134.5" lengthAdjust="spacingAndGlyphs" stroke="#000" stroke-width="0.9">Feb 22</text>
<polyline points="1745.0,838.1 1764.6,794.3 1784.2,794.3 1843.0,838.1 2019.4,838.1 2039.0,881.9 2058.6,838.1 2117.4,881.9 2156.6,881.9 2176.2,838.1 2195.8,838.1 2254.6,925.7 2274.2,881.9 2293.8,925.7 2333.0,925.7 2391.8,969.6 2450.6,969.6 2470.2,925.7 2529.0,1013.4 2548.6,969.6 2666.2,969.6 2685.8,1013.4 2744.6,1013.4 2803.4,1101.0 2823.0,1057.2 2842.6,1101.0 2862.2,1057.2 2881.8,1057.2 2940.6,1144.8 2960.2,1101.0 3019.0,1101.0 3077.8,1144.8 3097.4,1144.8" fill="none" stroke="#000" stroke-width="3.9" stroke-linejoin="round"/>
</g>
</svg>
</body></html>
